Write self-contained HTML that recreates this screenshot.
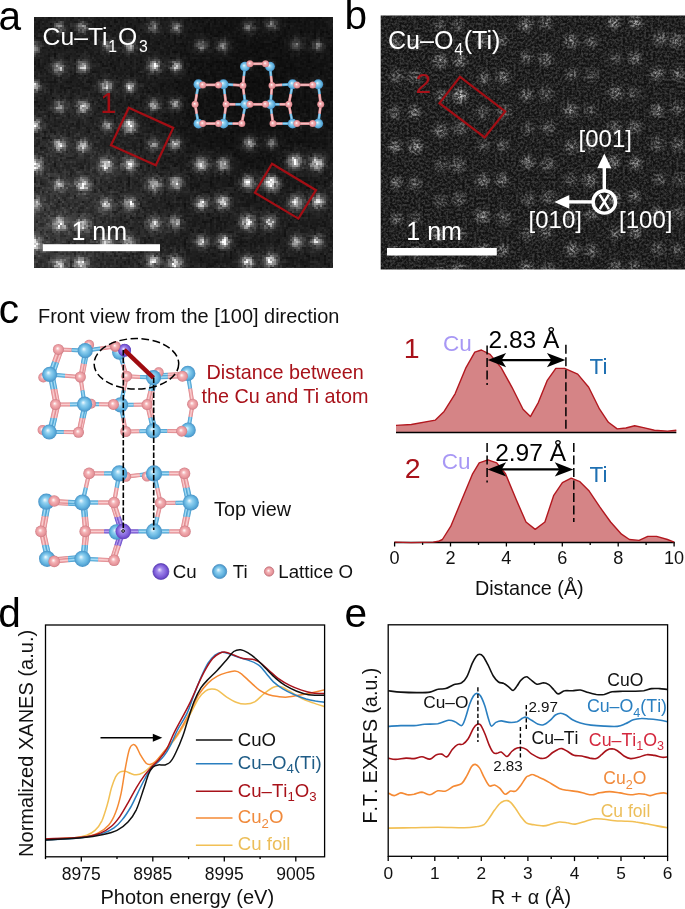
<!DOCTYPE html>
<html><head><meta charset="utf-8"><title>Figure</title>
<style>html,body{margin:0;padding:0;background:#fff}svg{display:block}</style></head>
<body>
<svg width="685" height="909" viewBox="0 0 685 909" font-family="'Liberation Sans', sans-serif">
<defs>
<radialGradient id="gTi" cx="0.5" cy="0.5" r="0.5" fx="0.4" fy="0.38">
<stop offset="0" stop-color="#f2fbff"/><stop offset="0.32" stop-color="#93d2f1"/><stop offset="0.72" stop-color="#62b3df"/><stop offset="1" stop-color="#4792c6"/></radialGradient>
<radialGradient id="gO" cx="0.5" cy="0.5" r="0.5" fx="0.42" fy="0.4">
<stop offset="0" stop-color="#ffffff"/><stop offset="0.38" stop-color="#f4b2b5"/><stop offset="0.8" stop-color="#e6949a"/><stop offset="1" stop-color="#cc7a82"/></radialGradient>
<radialGradient id="gCu" cx="0.5" cy="0.5" r="0.5" fx="0.4" fy="0.38">
<stop offset="0" stop-color="#efe8ff"/><stop offset="0.32" stop-color="#a48cec"/><stop offset="0.75" stop-color="#7d5cd8"/><stop offset="1" stop-color="#6040bc"/></radialGradient>
<radialGradient id="dotA"><stop offset="0" stop-color="#fff" stop-opacity="1"/><stop offset="0.2" stop-color="#fff" stop-opacity="0.86"/><stop offset="0.42" stop-color="#fff" stop-opacity="0.42"/><stop offset="0.68" stop-color="#fff" stop-opacity="0.13"/><stop offset="1" stop-color="#fff" stop-opacity="0"/></radialGradient>
<radialGradient id="dotB"><stop offset="0" stop-color="#fff" stop-opacity="0.34"/><stop offset="0.4" stop-color="#fff" stop-opacity="0.22"/><stop offset="0.75" stop-color="#fff" stop-opacity="0.08"/><stop offset="1" stop-color="#fff" stop-opacity="0"/></radialGradient>
<radialGradient id="haloA"><stop offset="0" stop-color="#fff" stop-opacity="0.11"/><stop offset="0.5" stop-color="#fff" stop-opacity="0.055"/><stop offset="1" stop-color="#fff" stop-opacity="0"/></radialGradient>
<radialGradient id="hazeA" gradientUnits="userSpaceOnUse" cx="45" cy="225" r="160"><stop offset="0" stop-color="#fff" stop-opacity="0.12"/><stop offset="0.5" stop-color="#fff" stop-opacity="0.05"/><stop offset="1" stop-color="#fff" stop-opacity="0"/></radialGradient>
<radialGradient id="darkA" gradientUnits="userSpaceOnUse" cx="270" cy="85" r="130"><stop offset="0" stop-color="#000" stop-opacity="0.5"/><stop offset="0.6" stop-color="#000" stop-opacity="0.3"/><stop offset="1" stop-color="#000" stop-opacity="0"/></radialGradient>
<filter id="nzA" x="0" y="0" width="1" height="1" color-interpolation-filters="sRGB">
<feTurbulence type="fractalNoise" baseFrequency="0.3" numOctaves="2" seed="3" result="t"/>
<feColorMatrix in="t" type="matrix" values="1.6 0 0 0 -0.3  1.6 0 0 0 -0.3  1.6 0 0 0 -0.3  0 0 0 0 1" result="g"/>
<feComposite in="SourceGraphic" in2="g" operator="arithmetic" k1="1.0" k2="0.5" k3="0" k4="0" result="n"/>
<feFlood x="34" y="17" width="1" height="1" flood-color="#000"/>
<feComposite width="2" height="2"/>
<feTile result="grid"/>
<feComposite in="n" in2="grid" operator="in" result="s"/>
<feOffset in="s" dx="1" dy="0" result="s1"/>
<feOffset in="s" dx="0" dy="1" result="s2"/>
<feOffset in="s" dx="1" dy="1" result="s3"/>
<feMerge><feMergeNode in="s"/><feMergeNode in="s1"/><feMergeNode in="s2"/><feMergeNode in="s3"/></feMerge>
</filter>
<filter id="nzB" x="0" y="0" width="1" height="1" color-interpolation-filters="sRGB">
<feTurbulence type="fractalNoise" baseFrequency="0.43" numOctaves="3" seed="11" result="t"/>
<feColorMatrix in="t" type="matrix" values="2.4 0 0 0 -0.7  2.4 0 0 0 -0.7  2.4 0 0 0 -0.7  0 0 0 0 1" result="g0"/>
<feComponentTransfer in="g0" result="g"><feFuncR type="gamma" exponent="1.3" amplitude="1" offset="0"/><feFuncG type="gamma" exponent="1.3" amplitude="1" offset="0"/><feFuncB type="gamma" exponent="1.3" amplitude="1" offset="0"/></feComponentTransfer>
<feComposite in="SourceGraphic" in2="g" operator="arithmetic" k1="1.35" k2="0.5" k3="0" k4="0"/>
</filter>
<clipPath id="clipA"><rect x="34" y="17" width="299" height="251"/></clipPath>
<clipPath id="clipB"><rect x="380.7" y="15.5" width="304.3" height="253.9"/></clipPath>
<marker id="ah" viewBox="0 0 10 10" refX="10" refY="5" markerWidth="10" markerHeight="10" orient="auto-start-reverse"><path d="M0,0 L10,5 L0,10 z"/></marker>
</defs>

<rect width="685" height="909" fill="#fff"/>
<text x="-1.6" y="29.6" font-size="40.6" fill="#000">a</text>
<text x="344.4" y="29.0" font-size="40.6" fill="#000">b</text>
<text x="-1.2" y="323.0" font-size="40.6" fill="#000">c</text>
<text x="-1.8" y="627.0" font-size="40.6" fill="#000">d</text>
<text x="344.5" y="627.3" font-size="40.6" fill="#000">e</text>
<g clip-path="url(#clipA)"><g filter="url(#nzA)">
<rect x="32" y="15" width="303" height="255" fill="#1c1c1c"/>
<rect x="30" y="15" width="310" height="260" fill="url(#hazeA)"/>
<rect x="30" y="15" width="310" height="260" fill="url(#darkA)"/>
<circle cx="59.0" cy="26.6" r="17.0" fill="url(#haloA)" opacity="0.43"/>
<circle cx="59.0" cy="26.6" r="10.0" fill="url(#dotA)" opacity="0.43"/>
<circle cx="81.6" cy="26.9" r="15.4" fill="url(#haloA)" opacity="0.54"/>
<circle cx="81.6" cy="26.9" r="9.1" fill="url(#dotA)" opacity="0.54"/>
<circle cx="152.6" cy="26.3" r="15.5" fill="url(#haloA)" opacity="0.43"/>
<circle cx="152.6" cy="26.3" r="9.1" fill="url(#dotA)" opacity="0.43"/>
<circle cx="175.6" cy="27.1" r="15.6" fill="url(#haloA)" opacity="0.47"/>
<circle cx="175.6" cy="27.1" r="9.2" fill="url(#dotA)" opacity="0.47"/>
<circle cx="248.4" cy="26.6" r="16.8" fill="url(#haloA)" opacity="0.38"/>
<circle cx="248.4" cy="26.6" r="9.9" fill="url(#dotA)" opacity="0.38"/>
<circle cx="271.3" cy="24.0" r="17.5" fill="url(#haloA)" opacity="0.36"/>
<circle cx="271.3" cy="24.0" r="10.3" fill="url(#dotA)" opacity="0.36"/>
<circle cx="341.5" cy="23.4" r="16.1" fill="url(#haloA)" opacity="0.46"/>
<circle cx="341.5" cy="23.4" r="9.5" fill="url(#dotA)" opacity="0.46"/>
<circle cx="33.7" cy="47.6" r="16.9" fill="url(#haloA)" opacity="0.50"/>
<circle cx="33.7" cy="47.6" r="10.0" fill="url(#dotA)" opacity="0.50"/>
<circle cx="106.9" cy="45.5" r="15.5" fill="url(#haloA)" opacity="0.46"/>
<circle cx="106.9" cy="45.5" r="9.1" fill="url(#dotA)" opacity="0.46"/>
<circle cx="129.3" cy="46.2" r="16.1" fill="url(#haloA)" opacity="0.56"/>
<circle cx="129.3" cy="46.2" r="9.5" fill="url(#dotA)" opacity="0.56"/>
<circle cx="201.0" cy="45.0" r="17.3" fill="url(#haloA)" opacity="0.43"/>
<circle cx="201.0" cy="45.0" r="10.2" fill="url(#dotA)" opacity="0.43"/>
<circle cx="222.4" cy="45.5" r="16.6" fill="url(#haloA)" opacity="0.47"/>
<circle cx="222.4" cy="45.5" r="9.8" fill="url(#dotA)" opacity="0.47"/>
<circle cx="296.0" cy="44.0" r="17.8" fill="url(#haloA)" opacity="0.32"/>
<circle cx="296.0" cy="44.0" r="10.5" fill="url(#dotA)" opacity="0.32"/>
<circle cx="317.2" cy="44.9" r="15.7" fill="url(#haloA)" opacity="0.39"/>
<circle cx="317.2" cy="44.9" r="9.2" fill="url(#dotA)" opacity="0.39"/>
<circle cx="58.3" cy="67.2" r="17.2" fill="url(#haloA)" opacity="0.70"/>
<circle cx="58.3" cy="67.2" r="10.1" fill="url(#dotA)" opacity="0.70"/>
<circle cx="82.5" cy="66.0" r="17.1" fill="url(#haloA)" opacity="0.70"/>
<circle cx="82.5" cy="66.0" r="10.0" fill="url(#dotA)" opacity="0.70"/>
<circle cx="154.0" cy="65.6" r="17.4" fill="url(#haloA)" opacity="0.82"/>
<circle cx="154.0" cy="65.6" r="10.3" fill="url(#dotA)" opacity="0.82"/>
<circle cx="175.7" cy="65.9" r="15.5" fill="url(#haloA)" opacity="0.74"/>
<circle cx="175.7" cy="65.9" r="9.1" fill="url(#dotA)" opacity="0.74"/>
<circle cx="248.5" cy="65.9" r="17.4" fill="url(#haloA)" opacity="0.09"/>
<circle cx="248.5" cy="65.9" r="10.2" fill="url(#dotA)" opacity="0.09"/>
<circle cx="269.8" cy="64.8" r="15.4" fill="url(#haloA)" opacity="0.10"/>
<circle cx="269.8" cy="64.8" r="9.0" fill="url(#dotA)" opacity="0.10"/>
<circle cx="341.5" cy="62.6" r="15.5" fill="url(#haloA)" opacity="0.12"/>
<circle cx="341.5" cy="62.6" r="9.1" fill="url(#dotA)" opacity="0.12"/>
<circle cx="33.5" cy="85.9" r="16.3" fill="url(#haloA)" opacity="0.79"/>
<circle cx="33.5" cy="85.9" r="9.6" fill="url(#dotA)" opacity="0.79"/>
<circle cx="105.7" cy="85.7" r="16.7" fill="url(#haloA)" opacity="0.80"/>
<circle cx="105.7" cy="85.7" r="9.8" fill="url(#dotA)" opacity="0.80"/>
<circle cx="129.6" cy="86.5" r="16.0" fill="url(#haloA)" opacity="0.64"/>
<circle cx="129.6" cy="86.5" r="9.4" fill="url(#dotA)" opacity="0.64"/>
<circle cx="200.7" cy="85.8" r="17.7" fill="url(#haloA)" opacity="0.09"/>
<circle cx="200.7" cy="85.8" r="10.4" fill="url(#dotA)" opacity="0.09"/>
<circle cx="222.3" cy="83.8" r="15.9" fill="url(#haloA)" opacity="0.10"/>
<circle cx="222.3" cy="83.8" r="9.4" fill="url(#dotA)" opacity="0.10"/>
<circle cx="295.6" cy="83.1" r="15.3" fill="url(#haloA)" opacity="0.10"/>
<circle cx="295.6" cy="83.1" r="9.0" fill="url(#dotA)" opacity="0.10"/>
<circle cx="317.1" cy="83.7" r="17.7" fill="url(#haloA)" opacity="0.11"/>
<circle cx="317.1" cy="83.7" r="10.4" fill="url(#dotA)" opacity="0.11"/>
<circle cx="59.5" cy="106.2" r="17.0" fill="url(#haloA)" opacity="0.53"/>
<circle cx="59.5" cy="106.2" r="10.0" fill="url(#dotA)" opacity="0.53"/>
<circle cx="82.5" cy="106.4" r="17.5" fill="url(#haloA)" opacity="0.77"/>
<circle cx="82.5" cy="106.4" r="10.3" fill="url(#dotA)" opacity="0.77"/>
<circle cx="153.5" cy="104.6" r="15.6" fill="url(#haloA)" opacity="0.71"/>
<circle cx="153.5" cy="104.6" r="9.2" fill="url(#dotA)" opacity="0.71"/>
<circle cx="174.7" cy="103.5" r="15.8" fill="url(#haloA)" opacity="0.56"/>
<circle cx="174.7" cy="103.5" r="9.3" fill="url(#dotA)" opacity="0.56"/>
<circle cx="247.7" cy="102.7" r="15.3" fill="url(#haloA)" opacity="0.09"/>
<circle cx="247.7" cy="102.7" r="9.0" fill="url(#dotA)" opacity="0.09"/>
<circle cx="269.1" cy="103.2" r="15.4" fill="url(#haloA)" opacity="0.12"/>
<circle cx="269.1" cy="103.2" r="9.0" fill="url(#dotA)" opacity="0.12"/>
<circle cx="342.7" cy="101.9" r="15.9" fill="url(#haloA)" opacity="0.10"/>
<circle cx="342.7" cy="101.9" r="9.4" fill="url(#dotA)" opacity="0.10"/>
<circle cx="34.1" cy="124.8" r="17.5" fill="url(#haloA)" opacity="0.83"/>
<circle cx="34.1" cy="124.8" r="10.3" fill="url(#dotA)" opacity="0.83"/>
<circle cx="106.7" cy="125.0" r="15.5" fill="url(#haloA)" opacity="0.54"/>
<circle cx="106.7" cy="125.0" r="9.1" fill="url(#dotA)" opacity="0.54"/>
<circle cx="128.4" cy="124.1" r="17.4" fill="url(#haloA)" opacity="0.56"/>
<circle cx="128.4" cy="124.1" r="10.2" fill="url(#dotA)" opacity="0.56"/>
<circle cx="199.9" cy="125.1" r="16.6" fill="url(#haloA)" opacity="0.09"/>
<circle cx="199.9" cy="125.1" r="9.8" fill="url(#dotA)" opacity="0.09"/>
<circle cx="223.2" cy="122.5" r="16.6" fill="url(#haloA)" opacity="0.13"/>
<circle cx="223.2" cy="122.5" r="9.8" fill="url(#dotA)" opacity="0.13"/>
<circle cx="296.3" cy="123.4" r="16.0" fill="url(#haloA)" opacity="0.10"/>
<circle cx="296.3" cy="123.4" r="9.4" fill="url(#dotA)" opacity="0.10"/>
<circle cx="316.5" cy="123.4" r="16.7" fill="url(#haloA)" opacity="0.12"/>
<circle cx="316.5" cy="123.4" r="9.8" fill="url(#dotA)" opacity="0.12"/>
<circle cx="59.1" cy="144.4" r="17.4" fill="url(#haloA)" opacity="0.83"/>
<circle cx="59.1" cy="144.4" r="10.2" fill="url(#dotA)" opacity="0.83"/>
<circle cx="82.4" cy="145.7" r="17.4" fill="url(#haloA)" opacity="0.75"/>
<circle cx="82.4" cy="145.7" r="10.2" fill="url(#dotA)" opacity="0.75"/>
<circle cx="153.1" cy="144.1" r="16.2" fill="url(#haloA)" opacity="0.52"/>
<circle cx="153.1" cy="144.1" r="9.5" fill="url(#dotA)" opacity="0.52"/>
<circle cx="174.6" cy="143.3" r="16.0" fill="url(#haloA)" opacity="0.73"/>
<circle cx="174.6" cy="143.3" r="9.4" fill="url(#dotA)" opacity="0.73"/>
<circle cx="249.3" cy="142.9" r="17.7" fill="url(#haloA)" opacity="0.59"/>
<circle cx="249.3" cy="142.9" r="10.4" fill="url(#dotA)" opacity="0.59"/>
<circle cx="271.3" cy="142.4" r="15.9" fill="url(#haloA)" opacity="0.41"/>
<circle cx="271.3" cy="142.4" r="9.3" fill="url(#dotA)" opacity="0.41"/>
<circle cx="341.6" cy="141.2" r="16.9" fill="url(#haloA)" opacity="0.57"/>
<circle cx="341.6" cy="141.2" r="9.9" fill="url(#dotA)" opacity="0.57"/>
<circle cx="35.4" cy="164.9" r="19.2" fill="url(#haloA)" opacity="0.90"/>
<circle cx="35.4" cy="164.9" r="11.3" fill="url(#dotA)" opacity="0.90"/>
<circle cx="105.7" cy="164.6" r="20.1" fill="url(#haloA)" opacity="0.90"/>
<circle cx="105.7" cy="164.6" r="11.8" fill="url(#dotA)" opacity="0.90"/>
<circle cx="129.5" cy="163.9" r="17.6" fill="url(#haloA)" opacity="0.90"/>
<circle cx="129.5" cy="163.9" r="10.4" fill="url(#dotA)" opacity="0.90"/>
<circle cx="200.7" cy="163.9" r="20.3" fill="url(#haloA)" opacity="0.75"/>
<circle cx="200.7" cy="163.9" r="11.9" fill="url(#dotA)" opacity="0.75"/>
<circle cx="222.8" cy="164.1" r="19.5" fill="url(#haloA)" opacity="0.66"/>
<circle cx="222.8" cy="164.1" r="11.4" fill="url(#dotA)" opacity="0.66"/>
<circle cx="294.4" cy="161.2" r="20.1" fill="url(#haloA)" opacity="0.91"/>
<circle cx="294.4" cy="161.2" r="11.8" fill="url(#dotA)" opacity="0.91"/>
<circle cx="316.5" cy="162.7" r="20.3" fill="url(#haloA)" opacity="0.85"/>
<circle cx="316.5" cy="162.7" r="12.0" fill="url(#dotA)" opacity="0.85"/>
<circle cx="59.1" cy="184.4" r="17.4" fill="url(#haloA)" opacity="0.61"/>
<circle cx="59.1" cy="184.4" r="10.3" fill="url(#dotA)" opacity="0.61"/>
<circle cx="82.7" cy="184.5" r="18.8" fill="url(#haloA)" opacity="0.95"/>
<circle cx="82.7" cy="184.5" r="11.1" fill="url(#dotA)" opacity="0.95"/>
<circle cx="153.6" cy="184.2" r="19.8" fill="url(#haloA)" opacity="0.68"/>
<circle cx="153.6" cy="184.2" r="11.7" fill="url(#dotA)" opacity="0.68"/>
<circle cx="175.2" cy="182.5" r="17.8" fill="url(#haloA)" opacity="0.82"/>
<circle cx="175.2" cy="182.5" r="10.5" fill="url(#dotA)" opacity="0.82"/>
<circle cx="247.5" cy="182.0" r="17.4" fill="url(#haloA)" opacity="0.95"/>
<circle cx="247.5" cy="182.0" r="10.3" fill="url(#dotA)" opacity="0.95"/>
<circle cx="269.7" cy="181.9" r="19.0" fill="url(#haloA)" opacity="0.94"/>
<circle cx="269.7" cy="181.9" r="11.2" fill="url(#dotA)" opacity="0.94"/>
<circle cx="342.2" cy="182.3" r="18.7" fill="url(#haloA)" opacity="0.80"/>
<circle cx="342.2" cy="182.3" r="11.0" fill="url(#dotA)" opacity="0.80"/>
<circle cx="34.6" cy="202.9" r="18.5" fill="url(#haloA)" opacity="0.67"/>
<circle cx="34.6" cy="202.9" r="10.9" fill="url(#dotA)" opacity="0.67"/>
<circle cx="105.5" cy="204.2" r="17.6" fill="url(#haloA)" opacity="0.78"/>
<circle cx="105.5" cy="204.2" r="10.3" fill="url(#dotA)" opacity="0.78"/>
<circle cx="129.4" cy="203.3" r="18.1" fill="url(#haloA)" opacity="0.80"/>
<circle cx="129.4" cy="203.3" r="10.7" fill="url(#dotA)" opacity="0.80"/>
<circle cx="201.2" cy="203.1" r="17.4" fill="url(#haloA)" opacity="0.81"/>
<circle cx="201.2" cy="203.1" r="10.2" fill="url(#dotA)" opacity="0.81"/>
<circle cx="222.4" cy="201.5" r="19.6" fill="url(#haloA)" opacity="0.79"/>
<circle cx="222.4" cy="201.5" r="11.5" fill="url(#dotA)" opacity="0.79"/>
<circle cx="295.6" cy="202.0" r="20.1" fill="url(#haloA)" opacity="0.77"/>
<circle cx="295.6" cy="202.0" r="11.8" fill="url(#dotA)" opacity="0.77"/>
<circle cx="317.7" cy="201.1" r="18.7" fill="url(#haloA)" opacity="0.86"/>
<circle cx="317.7" cy="201.1" r="11.0" fill="url(#dotA)" opacity="0.86"/>
<circle cx="59.4" cy="223.6" r="18.6" fill="url(#haloA)" opacity="0.96"/>
<circle cx="59.4" cy="223.6" r="11.0" fill="url(#dotA)" opacity="0.96"/>
<circle cx="82.0" cy="224.3" r="20.2" fill="url(#haloA)" opacity="0.70"/>
<circle cx="82.0" cy="224.3" r="11.9" fill="url(#dotA)" opacity="0.70"/>
<circle cx="154.0" cy="223.6" r="19.9" fill="url(#haloA)" opacity="0.65"/>
<circle cx="154.0" cy="223.6" r="11.7" fill="url(#dotA)" opacity="0.65"/>
<circle cx="174.8" cy="222.1" r="17.2" fill="url(#haloA)" opacity="0.69"/>
<circle cx="174.8" cy="222.1" r="10.1" fill="url(#dotA)" opacity="0.69"/>
<circle cx="247.0" cy="221.9" r="19.7" fill="url(#haloA)" opacity="0.94"/>
<circle cx="247.0" cy="221.9" r="11.6" fill="url(#dotA)" opacity="0.94"/>
<circle cx="269.2" cy="221.8" r="19.2" fill="url(#haloA)" opacity="0.65"/>
<circle cx="269.2" cy="221.8" r="11.3" fill="url(#dotA)" opacity="0.65"/>
<circle cx="343.4" cy="221.6" r="17.7" fill="url(#haloA)" opacity="0.96"/>
<circle cx="343.4" cy="221.6" r="10.4" fill="url(#dotA)" opacity="0.96"/>
<circle cx="34.2" cy="243.4" r="20.4" fill="url(#haloA)" opacity="0.92"/>
<circle cx="34.2" cy="243.4" r="12.0" fill="url(#dotA)" opacity="0.92"/>
<circle cx="105.9" cy="242.4" r="18.8" fill="url(#haloA)" opacity="0.73"/>
<circle cx="105.9" cy="242.4" r="11.0" fill="url(#dotA)" opacity="0.73"/>
<circle cx="128.0" cy="241.9" r="19.5" fill="url(#haloA)" opacity="0.61"/>
<circle cx="128.0" cy="241.9" r="11.4" fill="url(#dotA)" opacity="0.61"/>
<circle cx="201.2" cy="241.4" r="17.1" fill="url(#haloA)" opacity="0.73"/>
<circle cx="201.2" cy="241.4" r="10.0" fill="url(#dotA)" opacity="0.73"/>
<circle cx="223.4" cy="241.3" r="17.2" fill="url(#haloA)" opacity="0.97"/>
<circle cx="223.4" cy="241.3" r="10.1" fill="url(#dotA)" opacity="0.97"/>
<circle cx="296.1" cy="241.7" r="17.4" fill="url(#haloA)" opacity="0.70"/>
<circle cx="296.1" cy="241.7" r="10.2" fill="url(#dotA)" opacity="0.70"/>
<circle cx="316.2" cy="241.0" r="17.9" fill="url(#haloA)" opacity="0.65"/>
<circle cx="316.2" cy="241.0" r="10.5" fill="url(#dotA)" opacity="0.65"/>
<circle cx="59.3" cy="263.8" r="19.8" fill="url(#haloA)" opacity="0.70"/>
<circle cx="59.3" cy="263.8" r="11.6" fill="url(#dotA)" opacity="0.70"/>
<circle cx="80.6" cy="263.6" r="18.9" fill="url(#haloA)" opacity="0.87"/>
<circle cx="80.6" cy="263.6" r="11.1" fill="url(#dotA)" opacity="0.87"/>
<circle cx="152.7" cy="260.5" r="19.3" fill="url(#haloA)" opacity="0.76"/>
<circle cx="152.7" cy="260.5" r="11.4" fill="url(#dotA)" opacity="0.76"/>
<circle cx="174.7" cy="262.6" r="19.2" fill="url(#haloA)" opacity="0.90"/>
<circle cx="174.7" cy="262.6" r="11.3" fill="url(#dotA)" opacity="0.90"/>
<circle cx="247.0" cy="261.6" r="17.2" fill="url(#haloA)" opacity="0.93"/>
<circle cx="247.0" cy="261.6" r="10.1" fill="url(#dotA)" opacity="0.93"/>
<circle cx="270.0" cy="260.0" r="18.9" fill="url(#haloA)" opacity="0.95"/>
<circle cx="270.0" cy="260.0" r="11.1" fill="url(#dotA)" opacity="0.95"/>
<circle cx="341.8" cy="258.6" r="18.8" fill="url(#haloA)" opacity="0.69"/>
<circle cx="341.8" cy="258.6" r="11.1" fill="url(#dotA)" opacity="0.69"/>
<circle cx="33.5" cy="281.7" r="17.2" fill="url(#haloA)" opacity="0.68"/>
<circle cx="33.5" cy="281.7" r="10.1" fill="url(#dotA)" opacity="0.68"/>
<circle cx="106.3" cy="281.3" r="19.6" fill="url(#haloA)" opacity="0.71"/>
<circle cx="106.3" cy="281.3" r="11.5" fill="url(#dotA)" opacity="0.71"/>
<circle cx="128.8" cy="280.7" r="18.2" fill="url(#haloA)" opacity="0.61"/>
<circle cx="128.8" cy="280.7" r="10.7" fill="url(#dotA)" opacity="0.61"/>
<circle cx="200.5" cy="279.5" r="19.5" fill="url(#haloA)" opacity="0.81"/>
<circle cx="200.5" cy="279.5" r="11.5" fill="url(#dotA)" opacity="0.81"/>
<circle cx="222.3" cy="280.5" r="20.2" fill="url(#haloA)" opacity="0.64"/>
<circle cx="222.3" cy="280.5" r="11.9" fill="url(#dotA)" opacity="0.64"/>
<circle cx="296.2" cy="279.5" r="18.7" fill="url(#haloA)" opacity="0.92"/>
<circle cx="296.2" cy="279.5" r="11.0" fill="url(#dotA)" opacity="0.92"/>
<circle cx="317.1" cy="279.5" r="19.3" fill="url(#haloA)" opacity="0.97"/>
<circle cx="317.1" cy="279.5" r="11.4" fill="url(#dotA)" opacity="0.97"/>
<circle cx="129.8" cy="126.6" r="11.5" fill="url(#dotA)" opacity="0.6"/>
<circle cx="272.6" cy="183.8" r="11.5" fill="url(#dotA)" opacity="0.6"/>
</g></g>
<line x1="244.9" y1="66.6" x2="247.4" y2="65.2" stroke="#4a9acb" stroke-width="2.7"/>
<line x1="244.9" y1="66.6" x2="247.4" y2="65.2" stroke="#62b4de" stroke-width="2.11"/>
<line x1="244.9" y1="66.6" x2="247.4" y2="65.2" stroke="#a9dcf5" stroke-width="0.81"/>
<line x1="247.4" y1="65.2" x2="249.9" y2="63.8" stroke="#d98388" stroke-width="2.7"/>
<line x1="247.4" y1="65.2" x2="249.9" y2="63.8" stroke="#eb9ea3" stroke-width="2.11"/>
<line x1="247.4" y1="65.2" x2="249.9" y2="63.8" stroke="#f9cfd0" stroke-width="0.81"/>
<line x1="249.9" y1="63.8" x2="265.5" y2="63.8" stroke="#d98388" stroke-width="2.7"/>
<line x1="249.9" y1="63.8" x2="265.5" y2="63.8" stroke="#eb9ea3" stroke-width="2.11"/>
<line x1="249.9" y1="63.8" x2="265.5" y2="63.8" stroke="#f9cfd0" stroke-width="0.81"/>
<line x1="265.5" y1="63.8" x2="267.7" y2="65.2" stroke="#d98388" stroke-width="2.7"/>
<line x1="265.5" y1="63.8" x2="267.7" y2="65.2" stroke="#eb9ea3" stroke-width="2.11"/>
<line x1="265.5" y1="63.8" x2="267.7" y2="65.2" stroke="#f9cfd0" stroke-width="0.81"/>
<line x1="267.7" y1="65.2" x2="270.0" y2="66.6" stroke="#4a9acb" stroke-width="2.7"/>
<line x1="267.7" y1="65.2" x2="270.0" y2="66.6" stroke="#62b4de" stroke-width="2.11"/>
<line x1="267.7" y1="65.2" x2="270.0" y2="66.6" stroke="#a9dcf5" stroke-width="0.81"/>
<line x1="244.9" y1="66.6" x2="243.9" y2="76.0" stroke="#4a9acb" stroke-width="2.7"/>
<line x1="244.9" y1="66.6" x2="243.9" y2="76.0" stroke="#62b4de" stroke-width="2.11"/>
<line x1="244.9" y1="66.6" x2="243.9" y2="76.0" stroke="#a9dcf5" stroke-width="0.81"/>
<line x1="243.9" y1="76.0" x2="242.9" y2="85.4" stroke="#d98388" stroke-width="2.7"/>
<line x1="243.9" y1="76.0" x2="242.9" y2="85.4" stroke="#eb9ea3" stroke-width="2.11"/>
<line x1="243.9" y1="76.0" x2="242.9" y2="85.4" stroke="#f9cfd0" stroke-width="0.81"/>
<line x1="270.0" y1="66.6" x2="271.0" y2="76.0" stroke="#4a9acb" stroke-width="2.7"/>
<line x1="270.0" y1="66.6" x2="271.0" y2="76.0" stroke="#62b4de" stroke-width="2.11"/>
<line x1="270.0" y1="66.6" x2="271.0" y2="76.0" stroke="#a9dcf5" stroke-width="0.81"/>
<line x1="271.0" y1="76.0" x2="272.0" y2="85.4" stroke="#d98388" stroke-width="2.7"/>
<line x1="271.0" y1="76.0" x2="272.0" y2="85.4" stroke="#eb9ea3" stroke-width="2.11"/>
<line x1="271.0" y1="76.0" x2="272.0" y2="85.4" stroke="#f9cfd0" stroke-width="0.81"/>
<line x1="198.4" y1="84.2" x2="200.5" y2="84.5" stroke="#4a9acb" stroke-width="2.7"/>
<line x1="198.4" y1="84.2" x2="200.5" y2="84.5" stroke="#62b4de" stroke-width="2.11"/>
<line x1="198.4" y1="84.2" x2="200.5" y2="84.5" stroke="#a9dcf5" stroke-width="0.81"/>
<line x1="200.5" y1="84.5" x2="202.7" y2="84.9" stroke="#d98388" stroke-width="2.7"/>
<line x1="200.5" y1="84.5" x2="202.7" y2="84.9" stroke="#eb9ea3" stroke-width="2.11"/>
<line x1="200.5" y1="84.5" x2="202.7" y2="84.9" stroke="#f9cfd0" stroke-width="0.81"/>
<line x1="202.7" y1="84.9" x2="218.5" y2="84.9" stroke="#d98388" stroke-width="2.7"/>
<line x1="202.7" y1="84.9" x2="218.5" y2="84.9" stroke="#eb9ea3" stroke-width="2.11"/>
<line x1="202.7" y1="84.9" x2="218.5" y2="84.9" stroke="#f9cfd0" stroke-width="0.81"/>
<line x1="218.5" y1="84.9" x2="221.0" y2="84.5" stroke="#d98388" stroke-width="2.7"/>
<line x1="218.5" y1="84.9" x2="221.0" y2="84.5" stroke="#eb9ea3" stroke-width="2.11"/>
<line x1="218.5" y1="84.9" x2="221.0" y2="84.5" stroke="#f9cfd0" stroke-width="0.81"/>
<line x1="221.0" y1="84.5" x2="223.5" y2="84.2" stroke="#4a9acb" stroke-width="2.7"/>
<line x1="221.0" y1="84.5" x2="223.5" y2="84.2" stroke="#62b4de" stroke-width="2.11"/>
<line x1="221.0" y1="84.5" x2="223.5" y2="84.2" stroke="#a9dcf5" stroke-width="0.81"/>
<line x1="223.5" y1="84.2" x2="233.2" y2="84.8" stroke="#4a9acb" stroke-width="2.7"/>
<line x1="223.5" y1="84.2" x2="233.2" y2="84.8" stroke="#62b4de" stroke-width="2.11"/>
<line x1="223.5" y1="84.2" x2="233.2" y2="84.8" stroke="#a9dcf5" stroke-width="0.81"/>
<line x1="233.2" y1="84.8" x2="242.9" y2="85.4" stroke="#d98388" stroke-width="2.7"/>
<line x1="233.2" y1="84.8" x2="242.9" y2="85.4" stroke="#eb9ea3" stroke-width="2.11"/>
<line x1="233.2" y1="84.8" x2="242.9" y2="85.4" stroke="#f9cfd0" stroke-width="0.81"/>
<line x1="272.0" y1="85.4" x2="282.3" y2="84.8" stroke="#d98388" stroke-width="2.7"/>
<line x1="272.0" y1="85.4" x2="282.3" y2="84.8" stroke="#eb9ea3" stroke-width="2.11"/>
<line x1="272.0" y1="85.4" x2="282.3" y2="84.8" stroke="#f9cfd0" stroke-width="0.81"/>
<line x1="282.3" y1="84.8" x2="292.6" y2="84.2" stroke="#4a9acb" stroke-width="2.7"/>
<line x1="282.3" y1="84.8" x2="292.6" y2="84.2" stroke="#62b4de" stroke-width="2.11"/>
<line x1="282.3" y1="84.8" x2="292.6" y2="84.2" stroke="#a9dcf5" stroke-width="0.81"/>
<line x1="292.6" y1="84.2" x2="294.7" y2="84.5" stroke="#4a9acb" stroke-width="2.7"/>
<line x1="292.6" y1="84.2" x2="294.7" y2="84.5" stroke="#62b4de" stroke-width="2.11"/>
<line x1="292.6" y1="84.2" x2="294.7" y2="84.5" stroke="#a9dcf5" stroke-width="0.81"/>
<line x1="294.7" y1="84.5" x2="296.9" y2="84.9" stroke="#d98388" stroke-width="2.7"/>
<line x1="294.7" y1="84.5" x2="296.9" y2="84.9" stroke="#eb9ea3" stroke-width="2.11"/>
<line x1="294.7" y1="84.5" x2="296.9" y2="84.9" stroke="#f9cfd0" stroke-width="0.81"/>
<line x1="296.9" y1="84.9" x2="312.7" y2="84.9" stroke="#d98388" stroke-width="2.7"/>
<line x1="296.9" y1="84.9" x2="312.7" y2="84.9" stroke="#eb9ea3" stroke-width="2.11"/>
<line x1="296.9" y1="84.9" x2="312.7" y2="84.9" stroke="#f9cfd0" stroke-width="0.81"/>
<line x1="312.7" y1="84.9" x2="315.5" y2="84.5" stroke="#d98388" stroke-width="2.7"/>
<line x1="312.7" y1="84.9" x2="315.5" y2="84.5" stroke="#eb9ea3" stroke-width="2.11"/>
<line x1="312.7" y1="84.9" x2="315.5" y2="84.5" stroke="#f9cfd0" stroke-width="0.81"/>
<line x1="315.5" y1="84.5" x2="318.2" y2="84.2" stroke="#4a9acb" stroke-width="2.7"/>
<line x1="315.5" y1="84.5" x2="318.2" y2="84.2" stroke="#62b4de" stroke-width="2.11"/>
<line x1="315.5" y1="84.5" x2="318.2" y2="84.2" stroke="#a9dcf5" stroke-width="0.81"/>
<line x1="198.4" y1="84.2" x2="196.7" y2="94.2" stroke="#4a9acb" stroke-width="2.7"/>
<line x1="198.4" y1="84.2" x2="196.7" y2="94.2" stroke="#62b4de" stroke-width="2.11"/>
<line x1="198.4" y1="84.2" x2="196.7" y2="94.2" stroke="#a9dcf5" stroke-width="0.81"/>
<line x1="196.7" y1="94.2" x2="195.1" y2="104.3" stroke="#d98388" stroke-width="2.7"/>
<line x1="196.7" y1="94.2" x2="195.1" y2="104.3" stroke="#eb9ea3" stroke-width="2.11"/>
<line x1="196.7" y1="94.2" x2="195.1" y2="104.3" stroke="#f9cfd0" stroke-width="0.81"/>
<line x1="195.1" y1="104.3" x2="196.7" y2="113.9" stroke="#d98388" stroke-width="2.7"/>
<line x1="195.1" y1="104.3" x2="196.7" y2="113.9" stroke="#eb9ea3" stroke-width="2.11"/>
<line x1="195.1" y1="104.3" x2="196.7" y2="113.9" stroke="#f9cfd0" stroke-width="0.81"/>
<line x1="196.7" y1="113.9" x2="198.4" y2="123.6" stroke="#4a9acb" stroke-width="2.7"/>
<line x1="196.7" y1="113.9" x2="198.4" y2="123.6" stroke="#62b4de" stroke-width="2.11"/>
<line x1="196.7" y1="113.9" x2="198.4" y2="123.6" stroke="#a9dcf5" stroke-width="0.81"/>
<line x1="223.5" y1="84.2" x2="224.8" y2="94.2" stroke="#4a9acb" stroke-width="2.7"/>
<line x1="223.5" y1="84.2" x2="224.8" y2="94.2" stroke="#62b4de" stroke-width="2.11"/>
<line x1="223.5" y1="84.2" x2="224.8" y2="94.2" stroke="#a9dcf5" stroke-width="0.81"/>
<line x1="224.8" y1="94.2" x2="226.0" y2="104.3" stroke="#d98388" stroke-width="2.7"/>
<line x1="224.8" y1="94.2" x2="226.0" y2="104.3" stroke="#eb9ea3" stroke-width="2.11"/>
<line x1="224.8" y1="94.2" x2="226.0" y2="104.3" stroke="#f9cfd0" stroke-width="0.81"/>
<line x1="226.0" y1="104.3" x2="224.8" y2="113.9" stroke="#d98388" stroke-width="2.7"/>
<line x1="226.0" y1="104.3" x2="224.8" y2="113.9" stroke="#eb9ea3" stroke-width="2.11"/>
<line x1="226.0" y1="104.3" x2="224.8" y2="113.9" stroke="#f9cfd0" stroke-width="0.81"/>
<line x1="224.8" y1="113.9" x2="223.5" y2="123.6" stroke="#4a9acb" stroke-width="2.7"/>
<line x1="224.8" y1="113.9" x2="223.5" y2="123.6" stroke="#62b4de" stroke-width="2.11"/>
<line x1="224.8" y1="113.9" x2="223.5" y2="123.6" stroke="#a9dcf5" stroke-width="0.81"/>
<line x1="242.9" y1="85.4" x2="244.1" y2="94.8" stroke="#d98388" stroke-width="2.7"/>
<line x1="242.9" y1="85.4" x2="244.1" y2="94.8" stroke="#eb9ea3" stroke-width="2.11"/>
<line x1="242.9" y1="85.4" x2="244.1" y2="94.8" stroke="#f9cfd0" stroke-width="0.81"/>
<line x1="244.1" y1="94.8" x2="245.4" y2="104.3" stroke="#4a9acb" stroke-width="2.7"/>
<line x1="244.1" y1="94.8" x2="245.4" y2="104.3" stroke="#62b4de" stroke-width="2.11"/>
<line x1="244.1" y1="94.8" x2="245.4" y2="104.3" stroke="#a9dcf5" stroke-width="0.81"/>
<line x1="272.0" y1="85.4" x2="271.2" y2="94.8" stroke="#d98388" stroke-width="2.7"/>
<line x1="272.0" y1="85.4" x2="271.2" y2="94.8" stroke="#eb9ea3" stroke-width="2.11"/>
<line x1="272.0" y1="85.4" x2="271.2" y2="94.8" stroke="#f9cfd0" stroke-width="0.81"/>
<line x1="271.2" y1="94.8" x2="270.5" y2="104.3" stroke="#4a9acb" stroke-width="2.7"/>
<line x1="271.2" y1="94.8" x2="270.5" y2="104.3" stroke="#62b4de" stroke-width="2.11"/>
<line x1="271.2" y1="94.8" x2="270.5" y2="104.3" stroke="#a9dcf5" stroke-width="0.81"/>
<line x1="292.6" y1="84.2" x2="290.7" y2="94.2" stroke="#4a9acb" stroke-width="2.7"/>
<line x1="292.6" y1="84.2" x2="290.7" y2="94.2" stroke="#62b4de" stroke-width="2.11"/>
<line x1="292.6" y1="84.2" x2="290.7" y2="94.2" stroke="#a9dcf5" stroke-width="0.81"/>
<line x1="290.7" y1="94.2" x2="288.8" y2="104.3" stroke="#d98388" stroke-width="2.7"/>
<line x1="290.7" y1="94.2" x2="288.8" y2="104.3" stroke="#eb9ea3" stroke-width="2.11"/>
<line x1="290.7" y1="94.2" x2="288.8" y2="104.3" stroke="#f9cfd0" stroke-width="0.81"/>
<line x1="288.8" y1="104.3" x2="290.7" y2="113.9" stroke="#d98388" stroke-width="2.7"/>
<line x1="288.8" y1="104.3" x2="290.7" y2="113.9" stroke="#eb9ea3" stroke-width="2.11"/>
<line x1="288.8" y1="104.3" x2="290.7" y2="113.9" stroke="#f9cfd0" stroke-width="0.81"/>
<line x1="290.7" y1="113.9" x2="292.6" y2="123.6" stroke="#4a9acb" stroke-width="2.7"/>
<line x1="290.7" y1="113.9" x2="292.6" y2="123.6" stroke="#62b4de" stroke-width="2.11"/>
<line x1="290.7" y1="113.9" x2="292.6" y2="123.6" stroke="#a9dcf5" stroke-width="0.81"/>
<line x1="318.2" y1="84.2" x2="319.5" y2="94.2" stroke="#4a9acb" stroke-width="2.7"/>
<line x1="318.2" y1="84.2" x2="319.5" y2="94.2" stroke="#62b4de" stroke-width="2.11"/>
<line x1="318.2" y1="84.2" x2="319.5" y2="94.2" stroke="#a9dcf5" stroke-width="0.81"/>
<line x1="319.5" y1="94.2" x2="320.7" y2="104.3" stroke="#d98388" stroke-width="2.7"/>
<line x1="319.5" y1="94.2" x2="320.7" y2="104.3" stroke="#eb9ea3" stroke-width="2.11"/>
<line x1="319.5" y1="94.2" x2="320.7" y2="104.3" stroke="#f9cfd0" stroke-width="0.81"/>
<line x1="320.7" y1="104.3" x2="319.5" y2="113.9" stroke="#d98388" stroke-width="2.7"/>
<line x1="320.7" y1="104.3" x2="319.5" y2="113.9" stroke="#eb9ea3" stroke-width="2.11"/>
<line x1="320.7" y1="104.3" x2="319.5" y2="113.9" stroke="#f9cfd0" stroke-width="0.81"/>
<line x1="319.5" y1="113.9" x2="318.2" y2="123.6" stroke="#4a9acb" stroke-width="2.7"/>
<line x1="319.5" y1="113.9" x2="318.2" y2="123.6" stroke="#62b4de" stroke-width="2.11"/>
<line x1="319.5" y1="113.9" x2="318.2" y2="123.6" stroke="#a9dcf5" stroke-width="0.81"/>
<line x1="226.0" y1="104.3" x2="235.7" y2="104.3" stroke="#d98388" stroke-width="2.7"/>
<line x1="226.0" y1="104.3" x2="235.7" y2="104.3" stroke="#eb9ea3" stroke-width="2.11"/>
<line x1="226.0" y1="104.3" x2="235.7" y2="104.3" stroke="#f9cfd0" stroke-width="0.81"/>
<line x1="235.7" y1="104.3" x2="245.4" y2="104.3" stroke="#4a9acb" stroke-width="2.7"/>
<line x1="235.7" y1="104.3" x2="245.4" y2="104.3" stroke="#62b4de" stroke-width="2.11"/>
<line x1="235.7" y1="104.3" x2="245.4" y2="104.3" stroke="#a9dcf5" stroke-width="0.81"/>
<line x1="245.4" y1="104.3" x2="247.6" y2="104.3" stroke="#4a9acb" stroke-width="2.7"/>
<line x1="245.4" y1="104.3" x2="247.6" y2="104.3" stroke="#62b4de" stroke-width="2.11"/>
<line x1="245.4" y1="104.3" x2="247.6" y2="104.3" stroke="#a9dcf5" stroke-width="0.81"/>
<line x1="247.6" y1="104.3" x2="249.9" y2="104.3" stroke="#d98388" stroke-width="2.7"/>
<line x1="247.6" y1="104.3" x2="249.9" y2="104.3" stroke="#eb9ea3" stroke-width="2.11"/>
<line x1="247.6" y1="104.3" x2="249.9" y2="104.3" stroke="#f9cfd0" stroke-width="0.81"/>
<line x1="249.9" y1="104.3" x2="265.5" y2="104.3" stroke="#d98388" stroke-width="2.7"/>
<line x1="249.9" y1="104.3" x2="265.5" y2="104.3" stroke="#eb9ea3" stroke-width="2.11"/>
<line x1="249.9" y1="104.3" x2="265.5" y2="104.3" stroke="#f9cfd0" stroke-width="0.81"/>
<line x1="265.5" y1="104.3" x2="268.0" y2="104.3" stroke="#d98388" stroke-width="2.7"/>
<line x1="265.5" y1="104.3" x2="268.0" y2="104.3" stroke="#eb9ea3" stroke-width="2.11"/>
<line x1="265.5" y1="104.3" x2="268.0" y2="104.3" stroke="#f9cfd0" stroke-width="0.81"/>
<line x1="268.0" y1="104.3" x2="270.5" y2="104.3" stroke="#4a9acb" stroke-width="2.7"/>
<line x1="268.0" y1="104.3" x2="270.5" y2="104.3" stroke="#62b4de" stroke-width="2.11"/>
<line x1="268.0" y1="104.3" x2="270.5" y2="104.3" stroke="#a9dcf5" stroke-width="0.81"/>
<line x1="270.5" y1="104.3" x2="279.7" y2="104.3" stroke="#4a9acb" stroke-width="2.7"/>
<line x1="270.5" y1="104.3" x2="279.7" y2="104.3" stroke="#62b4de" stroke-width="2.11"/>
<line x1="270.5" y1="104.3" x2="279.7" y2="104.3" stroke="#a9dcf5" stroke-width="0.81"/>
<line x1="279.7" y1="104.3" x2="288.8" y2="104.3" stroke="#d98388" stroke-width="2.7"/>
<line x1="279.7" y1="104.3" x2="288.8" y2="104.3" stroke="#eb9ea3" stroke-width="2.11"/>
<line x1="279.7" y1="104.3" x2="288.8" y2="104.3" stroke="#f9cfd0" stroke-width="0.81"/>
<line x1="245.4" y1="104.3" x2="243.6" y2="113.9" stroke="#4a9acb" stroke-width="2.7"/>
<line x1="245.4" y1="104.3" x2="243.6" y2="113.9" stroke="#62b4de" stroke-width="2.11"/>
<line x1="245.4" y1="104.3" x2="243.6" y2="113.9" stroke="#a9dcf5" stroke-width="0.81"/>
<line x1="243.6" y1="113.9" x2="241.8" y2="123.6" stroke="#d98388" stroke-width="2.7"/>
<line x1="243.6" y1="113.9" x2="241.8" y2="123.6" stroke="#eb9ea3" stroke-width="2.11"/>
<line x1="243.6" y1="113.9" x2="241.8" y2="123.6" stroke="#f9cfd0" stroke-width="0.81"/>
<line x1="270.5" y1="104.3" x2="271.7" y2="113.9" stroke="#4a9acb" stroke-width="2.7"/>
<line x1="270.5" y1="104.3" x2="271.7" y2="113.9" stroke="#62b4de" stroke-width="2.11"/>
<line x1="270.5" y1="104.3" x2="271.7" y2="113.9" stroke="#a9dcf5" stroke-width="0.81"/>
<line x1="271.7" y1="113.9" x2="273.0" y2="123.6" stroke="#d98388" stroke-width="2.7"/>
<line x1="271.7" y1="113.9" x2="273.0" y2="123.6" stroke="#eb9ea3" stroke-width="2.11"/>
<line x1="271.7" y1="113.9" x2="273.0" y2="123.6" stroke="#f9cfd0" stroke-width="0.81"/>
<line x1="198.4" y1="123.6" x2="200.5" y2="123.6" stroke="#4a9acb" stroke-width="2.7"/>
<line x1="198.4" y1="123.6" x2="200.5" y2="123.6" stroke="#62b4de" stroke-width="2.11"/>
<line x1="198.4" y1="123.6" x2="200.5" y2="123.6" stroke="#a9dcf5" stroke-width="0.81"/>
<line x1="200.5" y1="123.6" x2="202.7" y2="123.6" stroke="#d98388" stroke-width="2.7"/>
<line x1="200.5" y1="123.6" x2="202.7" y2="123.6" stroke="#eb9ea3" stroke-width="2.11"/>
<line x1="200.5" y1="123.6" x2="202.7" y2="123.6" stroke="#f9cfd0" stroke-width="0.81"/>
<line x1="202.7" y1="123.6" x2="218.5" y2="123.6" stroke="#d98388" stroke-width="2.7"/>
<line x1="202.7" y1="123.6" x2="218.5" y2="123.6" stroke="#eb9ea3" stroke-width="2.11"/>
<line x1="202.7" y1="123.6" x2="218.5" y2="123.6" stroke="#f9cfd0" stroke-width="0.81"/>
<line x1="218.5" y1="123.6" x2="221.0" y2="123.6" stroke="#d98388" stroke-width="2.7"/>
<line x1="218.5" y1="123.6" x2="221.0" y2="123.6" stroke="#eb9ea3" stroke-width="2.11"/>
<line x1="218.5" y1="123.6" x2="221.0" y2="123.6" stroke="#f9cfd0" stroke-width="0.81"/>
<line x1="221.0" y1="123.6" x2="223.5" y2="123.6" stroke="#4a9acb" stroke-width="2.7"/>
<line x1="221.0" y1="123.6" x2="223.5" y2="123.6" stroke="#62b4de" stroke-width="2.11"/>
<line x1="221.0" y1="123.6" x2="223.5" y2="123.6" stroke="#a9dcf5" stroke-width="0.81"/>
<line x1="223.5" y1="123.6" x2="232.7" y2="123.6" stroke="#4a9acb" stroke-width="2.7"/>
<line x1="223.5" y1="123.6" x2="232.7" y2="123.6" stroke="#62b4de" stroke-width="2.11"/>
<line x1="223.5" y1="123.6" x2="232.7" y2="123.6" stroke="#a9dcf5" stroke-width="0.81"/>
<line x1="232.7" y1="123.6" x2="241.8" y2="123.6" stroke="#d98388" stroke-width="2.7"/>
<line x1="232.7" y1="123.6" x2="241.8" y2="123.6" stroke="#eb9ea3" stroke-width="2.11"/>
<line x1="232.7" y1="123.6" x2="241.8" y2="123.6" stroke="#f9cfd0" stroke-width="0.81"/>
<line x1="273.0" y1="123.6" x2="282.8" y2="123.6" stroke="#d98388" stroke-width="2.7"/>
<line x1="273.0" y1="123.6" x2="282.8" y2="123.6" stroke="#eb9ea3" stroke-width="2.11"/>
<line x1="273.0" y1="123.6" x2="282.8" y2="123.6" stroke="#f9cfd0" stroke-width="0.81"/>
<line x1="282.8" y1="123.6" x2="292.6" y2="123.6" stroke="#4a9acb" stroke-width="2.7"/>
<line x1="282.8" y1="123.6" x2="292.6" y2="123.6" stroke="#62b4de" stroke-width="2.11"/>
<line x1="282.8" y1="123.6" x2="292.6" y2="123.6" stroke="#a9dcf5" stroke-width="0.81"/>
<line x1="292.6" y1="123.6" x2="294.7" y2="123.6" stroke="#4a9acb" stroke-width="2.7"/>
<line x1="292.6" y1="123.6" x2="294.7" y2="123.6" stroke="#62b4de" stroke-width="2.11"/>
<line x1="292.6" y1="123.6" x2="294.7" y2="123.6" stroke="#a9dcf5" stroke-width="0.81"/>
<line x1="294.7" y1="123.6" x2="296.9" y2="123.6" stroke="#d98388" stroke-width="2.7"/>
<line x1="294.7" y1="123.6" x2="296.9" y2="123.6" stroke="#eb9ea3" stroke-width="2.11"/>
<line x1="294.7" y1="123.6" x2="296.9" y2="123.6" stroke="#f9cfd0" stroke-width="0.81"/>
<line x1="296.9" y1="123.6" x2="312.7" y2="123.6" stroke="#d98388" stroke-width="2.7"/>
<line x1="296.9" y1="123.6" x2="312.7" y2="123.6" stroke="#eb9ea3" stroke-width="2.11"/>
<line x1="296.9" y1="123.6" x2="312.7" y2="123.6" stroke="#f9cfd0" stroke-width="0.81"/>
<line x1="312.7" y1="123.6" x2="315.5" y2="123.6" stroke="#d98388" stroke-width="2.7"/>
<line x1="312.7" y1="123.6" x2="315.5" y2="123.6" stroke="#eb9ea3" stroke-width="2.11"/>
<line x1="312.7" y1="123.6" x2="315.5" y2="123.6" stroke="#f9cfd0" stroke-width="0.81"/>
<line x1="315.5" y1="123.6" x2="318.2" y2="123.6" stroke="#4a9acb" stroke-width="2.7"/>
<line x1="315.5" y1="123.6" x2="318.2" y2="123.6" stroke="#62b4de" stroke-width="2.11"/>
<line x1="315.5" y1="123.6" x2="318.2" y2="123.6" stroke="#a9dcf5" stroke-width="0.81"/>
<circle cx="244.9" cy="66.6" r="4.9" fill="url(#gTi)"/>
<circle cx="270.0" cy="66.6" r="4.9" fill="url(#gTi)"/>
<circle cx="198.4" cy="84.2" r="4.9" fill="url(#gTi)"/>
<circle cx="223.5" cy="84.2" r="4.9" fill="url(#gTi)"/>
<circle cx="292.6" cy="84.2" r="4.9" fill="url(#gTi)"/>
<circle cx="318.2" cy="84.2" r="4.9" fill="url(#gTi)"/>
<circle cx="245.4" cy="104.3" r="4.9" fill="url(#gTi)"/>
<circle cx="270.5" cy="104.3" r="4.9" fill="url(#gTi)"/>
<circle cx="198.4" cy="123.6" r="4.9" fill="url(#gTi)"/>
<circle cx="223.5" cy="123.6" r="4.9" fill="url(#gTi)"/>
<circle cx="292.6" cy="123.6" r="4.9" fill="url(#gTi)"/>
<circle cx="318.2" cy="123.6" r="4.9" fill="url(#gTi)"/>
<circle cx="249.9" cy="63.8" r="3.5" fill="url(#gO)"/>
<circle cx="265.5" cy="63.8" r="3.5" fill="url(#gO)"/>
<circle cx="202.7" cy="84.9" r="3.5" fill="url(#gO)"/>
<circle cx="218.5" cy="84.9" r="3.5" fill="url(#gO)"/>
<circle cx="242.9" cy="85.4" r="3.5" fill="url(#gO)"/>
<circle cx="272.0" cy="85.4" r="3.5" fill="url(#gO)"/>
<circle cx="296.9" cy="84.9" r="3.5" fill="url(#gO)"/>
<circle cx="312.7" cy="84.9" r="3.5" fill="url(#gO)"/>
<circle cx="195.1" cy="104.3" r="3.5" fill="url(#gO)"/>
<circle cx="226.0" cy="104.3" r="3.5" fill="url(#gO)"/>
<circle cx="249.9" cy="104.3" r="3.5" fill="url(#gO)"/>
<circle cx="265.5" cy="104.3" r="3.5" fill="url(#gO)"/>
<circle cx="288.8" cy="104.3" r="3.5" fill="url(#gO)"/>
<circle cx="320.7" cy="104.3" r="3.5" fill="url(#gO)"/>
<circle cx="202.7" cy="123.6" r="3.5" fill="url(#gO)"/>
<circle cx="218.5" cy="123.6" r="3.5" fill="url(#gO)"/>
<circle cx="241.8" cy="123.6" r="3.5" fill="url(#gO)"/>
<circle cx="273.0" cy="123.6" r="3.5" fill="url(#gO)"/>
<circle cx="296.9" cy="123.6" r="3.5" fill="url(#gO)"/>
<circle cx="312.7" cy="123.6" r="3.5" fill="url(#gO)"/>
<polygon points="128.8,107.8 173.2,127.9 155.8,165.2 111.0,145.2" fill="none" stroke="#a30e14" stroke-width="2.2"/>
<polygon points="272.0,163.8 316.0,190.2 298.4,218.6 254.9,192.7" fill="none" stroke="#a30e14" stroke-width="2.2"/>
<text x="100.2" y="113.1" font-size="29" fill="#a30e14">1</text>
<text x="42.6" y="45.3" font-size="24.7" fill="#fff">Cu–Ti<tspan font-size="15.8" dy="6.2" dx="0.8">1</tspan><tspan dy="-6.2" dx="0.8">O</tspan><tspan font-size="15.8" dy="6.2" dx="1.8">3</tspan></text>
<rect x="42.7" y="244.2" width="117.3" height="7" fill="#fff"/>
<text x="71.5" y="240" font-size="25" fill="#fff">1 nm</text>
<g clip-path="url(#clipB)"><g filter="url(#nzB)">
<rect x="378.7" y="13.5" width="308.3" height="257.9" fill="#202020"/>
<circle cx="371.6" cy="26.8" r="9.9" fill="url(#dotB)" opacity="0.77"/>
<circle cx="439.7" cy="24.5" r="8.6" fill="url(#dotB)" opacity="0.51"/>
<circle cx="458.2" cy="25.5" r="9.0" fill="url(#dotB)" opacity="0.53"/>
<circle cx="526.2" cy="25.0" r="10.2" fill="url(#dotB)" opacity="0.79"/>
<circle cx="546.2" cy="22.9" r="9.1" fill="url(#dotB)" opacity="0.68"/>
<circle cx="613.8" cy="22.7" r="9.0" fill="url(#dotB)" opacity="0.93"/>
<circle cx="635.7" cy="22.8" r="9.0" fill="url(#dotB)" opacity="0.93"/>
<circle cx="395.7" cy="42.5" r="8.5" fill="url(#dotB)" opacity="0.64"/>
<circle cx="415.7" cy="42.7" r="8.9" fill="url(#dotB)" opacity="0.70"/>
<circle cx="482.2" cy="41.2" r="8.7" fill="url(#dotB)" opacity="0.65"/>
<circle cx="501.8" cy="40.3" r="9.1" fill="url(#dotB)" opacity="0.57"/>
<circle cx="571.4" cy="41.0" r="10.0" fill="url(#dotB)" opacity="0.78"/>
<circle cx="591.2" cy="41.8" r="9.3" fill="url(#dotB)" opacity="0.61"/>
<circle cx="660.0" cy="38.8" r="9.9" fill="url(#dotB)" opacity="0.77"/>
<circle cx="676.6" cy="40.6" r="10.3" fill="url(#dotB)" opacity="0.76"/>
<circle cx="372.8" cy="61.7" r="8.8" fill="url(#dotB)" opacity="0.71"/>
<circle cx="440.0" cy="60.9" r="10.1" fill="url(#dotB)" opacity="0.86"/>
<circle cx="459.8" cy="60.8" r="9.9" fill="url(#dotB)" opacity="0.80"/>
<circle cx="526.6" cy="57.4" r="8.8" fill="url(#dotB)" opacity="0.63"/>
<circle cx="545.7" cy="59.6" r="9.6" fill="url(#dotB)" opacity="0.76"/>
<circle cx="615.2" cy="58.3" r="9.5" fill="url(#dotB)" opacity="0.45"/>
<circle cx="635.2" cy="58.3" r="9.5" fill="url(#dotB)" opacity="0.72"/>
<circle cx="396.8" cy="76.6" r="10.0" fill="url(#dotB)" opacity="0.58"/>
<circle cx="414.5" cy="76.9" r="10.0" fill="url(#dotB)" opacity="0.55"/>
<circle cx="484.4" cy="78.3" r="9.5" fill="url(#dotB)" opacity="0.64"/>
<circle cx="503.1" cy="77.1" r="10.0" fill="url(#dotB)" opacity="0.76"/>
<circle cx="571.5" cy="74.5" r="8.8" fill="url(#dotB)" opacity="0.58"/>
<circle cx="591.3" cy="75.0" r="9.6" fill="url(#dotB)" opacity="0.46"/>
<circle cx="657.2" cy="74.0" r="9.8" fill="url(#dotB)" opacity="0.80"/>
<circle cx="678.5" cy="73.9" r="9.5" fill="url(#dotB)" opacity="0.68"/>
<circle cx="372.0" cy="94.5" r="10.3" fill="url(#dotB)" opacity="0.55"/>
<circle cx="441.4" cy="96.1" r="8.5" fill="url(#dotB)" opacity="0.68"/>
<circle cx="460.5" cy="96.0" r="9.4" fill="url(#dotB)" opacity="0.58"/>
<circle cx="526.5" cy="95.1" r="8.9" fill="url(#dotB)" opacity="0.74"/>
<circle cx="545.8" cy="93.6" r="10.4" fill="url(#dotB)" opacity="0.52"/>
<circle cx="615.8" cy="92.7" r="10.3" fill="url(#dotB)" opacity="0.80"/>
<circle cx="633.5" cy="93.7" r="9.5" fill="url(#dotB)" opacity="0.46"/>
<circle cx="394.8" cy="112.7" r="9.4" fill="url(#dotB)" opacity="0.60"/>
<circle cx="414.7" cy="112.1" r="9.1" fill="url(#dotB)" opacity="0.87"/>
<circle cx="482.2" cy="112.5" r="10.2" fill="url(#dotB)" opacity="0.51"/>
<circle cx="504.5" cy="112.1" r="10.3" fill="url(#dotB)" opacity="0.59"/>
<circle cx="570.7" cy="110.4" r="10.5" fill="url(#dotB)" opacity="0.74"/>
<circle cx="590.2" cy="110.2" r="9.1" fill="url(#dotB)" opacity="0.47"/>
<circle cx="657.3" cy="110.6" r="9.1" fill="url(#dotB)" opacity="0.92"/>
<circle cx="677.2" cy="108.7" r="9.5" fill="url(#dotB)" opacity="0.54"/>
<circle cx="371.7" cy="131.9" r="10.3" fill="url(#dotB)" opacity="0.86"/>
<circle cx="440.4" cy="130.9" r="10.4" fill="url(#dotB)" opacity="0.72"/>
<circle cx="460.2" cy="128.1" r="10.0" fill="url(#dotB)" opacity="0.68"/>
<circle cx="528.2" cy="129.1" r="9.1" fill="url(#dotB)" opacity="0.47"/>
<circle cx="548.2" cy="127.3" r="9.4" fill="url(#dotB)" opacity="0.62"/>
<circle cx="614.2" cy="128.3" r="10.5" fill="url(#dotB)" opacity="0.58"/>
<circle cx="634.8" cy="126.8" r="9.6" fill="url(#dotB)" opacity="0.65"/>
<circle cx="395.3" cy="146.7" r="8.9" fill="url(#dotB)" opacity="0.90"/>
<circle cx="415.8" cy="146.6" r="10.3" fill="url(#dotB)" opacity="0.95"/>
<circle cx="483.5" cy="145.5" r="8.9" fill="url(#dotB)" opacity="0.50"/>
<circle cx="502.7" cy="145.2" r="9.0" fill="url(#dotB)" opacity="0.58"/>
<circle cx="571.3" cy="146.7" r="10.0" fill="url(#dotB)" opacity="0.66"/>
<circle cx="590.3" cy="145.4" r="9.3" fill="url(#dotB)" opacity="0.62"/>
<circle cx="657.2" cy="143.9" r="10.4" fill="url(#dotB)" opacity="0.51"/>
<circle cx="678.0" cy="144.7" r="10.2" fill="url(#dotB)" opacity="0.56"/>
<circle cx="371.4" cy="164.7" r="9.3" fill="url(#dotB)" opacity="0.67"/>
<circle cx="441.4" cy="165.6" r="10.2" fill="url(#dotB)" opacity="0.46"/>
<circle cx="458.1" cy="165.0" r="10.3" fill="url(#dotB)" opacity="0.69"/>
<circle cx="527.7" cy="162.1" r="9.3" fill="url(#dotB)" opacity="0.91"/>
<circle cx="547.9" cy="164.4" r="10.4" fill="url(#dotB)" opacity="0.57"/>
<circle cx="613.6" cy="161.5" r="9.5" fill="url(#dotB)" opacity="0.79"/>
<circle cx="635.6" cy="162.9" r="9.8" fill="url(#dotB)" opacity="0.83"/>
<circle cx="396.2" cy="182.7" r="8.6" fill="url(#dotB)" opacity="0.84"/>
<circle cx="415.0" cy="183.6" r="9.8" fill="url(#dotB)" opacity="0.60"/>
<circle cx="482.6" cy="180.8" r="9.8" fill="url(#dotB)" opacity="0.80"/>
<circle cx="502.0" cy="180.0" r="9.5" fill="url(#dotB)" opacity="0.74"/>
<circle cx="570.8" cy="179.6" r="9.7" fill="url(#dotB)" opacity="0.46"/>
<circle cx="590.0" cy="180.1" r="10.4" fill="url(#dotB)" opacity="0.77"/>
<circle cx="659.7" cy="179.4" r="9.0" fill="url(#dotB)" opacity="0.57"/>
<circle cx="679.4" cy="179.8" r="9.1" fill="url(#dotB)" opacity="0.46"/>
<circle cx="372.1" cy="200.8" r="9.3" fill="url(#dotB)" opacity="0.58"/>
<circle cx="440.5" cy="200.8" r="9.0" fill="url(#dotB)" opacity="0.47"/>
<circle cx="459.0" cy="199.0" r="9.9" fill="url(#dotB)" opacity="0.55"/>
<circle cx="528.3" cy="199.2" r="9.5" fill="url(#dotB)" opacity="0.55"/>
<circle cx="548.3" cy="197.7" r="10.1" fill="url(#dotB)" opacity="0.57"/>
<circle cx="614.0" cy="198.2" r="9.1" fill="url(#dotB)" opacity="0.93"/>
<circle cx="634.3" cy="196.2" r="8.9" fill="url(#dotB)" opacity="0.66"/>
<circle cx="396.8" cy="218.8" r="8.8" fill="url(#dotB)" opacity="0.65"/>
<circle cx="414.9" cy="218.7" r="8.8" fill="url(#dotB)" opacity="0.48"/>
<circle cx="482.4" cy="216.1" r="10.3" fill="url(#dotB)" opacity="0.89"/>
<circle cx="503.9" cy="217.7" r="10.4" fill="url(#dotB)" opacity="0.61"/>
<circle cx="570.2" cy="216.7" r="10.0" fill="url(#dotB)" opacity="0.47"/>
<circle cx="591.1" cy="214.8" r="9.2" fill="url(#dotB)" opacity="0.62"/>
<circle cx="657.5" cy="212.8" r="9.1" fill="url(#dotB)" opacity="0.63"/>
<circle cx="679.4" cy="213.0" r="10.4" fill="url(#dotB)" opacity="0.55"/>
<circle cx="371.7" cy="236.2" r="10.1" fill="url(#dotB)" opacity="0.67"/>
<circle cx="438.6" cy="234.3" r="9.2" fill="url(#dotB)" opacity="0.91"/>
<circle cx="458.6" cy="233.8" r="10.3" fill="url(#dotB)" opacity="0.47"/>
<circle cx="527.1" cy="234.3" r="10.0" fill="url(#dotB)" opacity="0.47"/>
<circle cx="545.5" cy="231.8" r="10.3" fill="url(#dotB)" opacity="0.58"/>
<circle cx="615.5" cy="233.5" r="9.2" fill="url(#dotB)" opacity="0.59"/>
<circle cx="635.7" cy="232.4" r="9.0" fill="url(#dotB)" opacity="0.81"/>
<circle cx="395.7" cy="251.7" r="8.5" fill="url(#dotB)" opacity="0.83"/>
<circle cx="417.0" cy="252.5" r="10.4" fill="url(#dotB)" opacity="0.46"/>
<circle cx="482.9" cy="251.3" r="10.4" fill="url(#dotB)" opacity="0.93"/>
<circle cx="502.9" cy="250.3" r="9.4" fill="url(#dotB)" opacity="0.70"/>
<circle cx="572.4" cy="249.3" r="10.1" fill="url(#dotB)" opacity="0.82"/>
<circle cx="591.6" cy="250.9" r="9.7" fill="url(#dotB)" opacity="0.61"/>
<circle cx="658.0" cy="248.8" r="10.1" fill="url(#dotB)" opacity="0.49"/>
<circle cx="677.1" cy="249.8" r="9.0" fill="url(#dotB)" opacity="0.48"/>
<circle cx="370.7" cy="270.3" r="9.2" fill="url(#dotB)" opacity="0.94"/>
<circle cx="441.2" cy="270.8" r="9.0" fill="url(#dotB)" opacity="0.49"/>
<circle cx="458.3" cy="269.1" r="9.9" fill="url(#dotB)" opacity="0.67"/>
<circle cx="526.6" cy="268.0" r="9.7" fill="url(#dotB)" opacity="0.79"/>
<circle cx="547.6" cy="269.1" r="9.8" fill="url(#dotB)" opacity="0.51"/>
<circle cx="615.8" cy="266.6" r="9.6" fill="url(#dotB)" opacity="0.64"/>
<circle cx="635.0" cy="266.1" r="9.0" fill="url(#dotB)" opacity="0.57"/>
<circle cx="395.3" cy="288.4" r="9.7" fill="url(#dotB)" opacity="0.61"/>
<circle cx="415.5" cy="288.5" r="9.5" fill="url(#dotB)" opacity="0.57"/>
<circle cx="484.6" cy="286.7" r="10.5" fill="url(#dotB)" opacity="0.50"/>
<circle cx="503.1" cy="286.9" r="10.2" fill="url(#dotB)" opacity="0.91"/>
<circle cx="569.7" cy="284.6" r="8.7" fill="url(#dotB)" opacity="0.54"/>
<circle cx="592.0" cy="285.2" r="10.4" fill="url(#dotB)" opacity="0.64"/>
<circle cx="659.6" cy="284.0" r="9.0" fill="url(#dotB)" opacity="0.84"/>
<circle cx="679.3" cy="282.7" r="9.7" fill="url(#dotB)" opacity="0.76"/>
<circle cx="460" cy="95.5" r="11" fill="url(#dotB)" opacity="0.8"/>
</g></g>
<polygon points="460.0,76.8 505.2,111.4 484.7,137.5 439.5,103.2" fill="none" stroke="#a30e14" stroke-width="2.2"/>
<text x="415.6" y="93.2" font-size="28" fill="#a8121a">2</text>
<text x="387.9" y="48.7" font-size="25.1" fill="#fff">Cu–O<tspan font-size="16" dy="6.3" dx="0.8">4</tspan><tspan dy="-6.3" dx="0.6">(Ti)</tspan></text>
<rect x="387" y="248" width="109.8" height="7.5" fill="#fff"/>
<text x="406.3" y="240" font-size="25" fill="#fff">1 nm</text>
<line x1="604.3" y1="190.9" x2="604.3" y2="166" stroke="#fff" stroke-width="3.4"/>
<polygon points="604.3,153.6 597.3,168.3 611.3,168.3" fill="#fff"/>
<line x1="593.3" y1="201.9" x2="567" y2="201.9" stroke="#fff" stroke-width="3.4"/>
<polygon points="554.3,201.9 569.3,195.1 569.3,208.70000000000002" fill="#fff"/>
<circle cx="604.3" cy="201.9" r="11.2" fill="none" stroke="#fff" stroke-width="3.4"/>
<path d="M599.6999999999999,194.70000000000002 L608.9,209.1 M608.9,194.70000000000002 L599.6999999999999,209.1" stroke="#fff" stroke-width="2.5" fill="none"/>
<text x="605.3" y="146.8" font-size="24" fill="#fff" text-anchor="middle">[001]</text>
<text x="555.3" y="228.4" font-size="24" fill="#fff" text-anchor="middle">[010]</text>
<text x="645.8" y="228.4" font-size="24" fill="#fff" text-anchor="middle">[100]</text>
<text x="38" y="322.9" font-size="19.95" fill="#111">Front view from the [100] direction</text>
<text x="285.2" y="379.2" font-size="19.8" fill="#a8121a" text-anchor="middle">Distance between</text>
<text x="285" y="403.1" font-size="19.8" fill="#a8121a" text-anchor="middle">the Cu and Ti atom</text>
<text x="214" y="515.9" font-size="19.8" fill="#111">Top view</text>
<line x1="61.6" y1="350.2" x2="57.2" y2="362.7" stroke="#d98388" stroke-width="3.6"/>
<line x1="61.6" y1="350.2" x2="57.2" y2="362.7" stroke="#eb9ea3" stroke-width="2.81"/>
<line x1="61.6" y1="350.2" x2="57.2" y2="362.7" stroke="#f9cfd0" stroke-width="1.08"/>
<line x1="57.2" y1="362.7" x2="52.9" y2="375.2" stroke="#4a9acb" stroke-width="3.6"/>
<line x1="57.2" y1="362.7" x2="52.9" y2="375.2" stroke="#62b4de" stroke-width="2.81"/>
<line x1="57.2" y1="362.7" x2="52.9" y2="375.2" stroke="#a9dcf5" stroke-width="1.08"/>
<line x1="52.7" y1="374.4" x2="55.6" y2="389.4" stroke="#4a9acb" stroke-width="3.6"/>
<line x1="52.7" y1="374.4" x2="55.6" y2="389.4" stroke="#62b4de" stroke-width="2.81"/>
<line x1="52.7" y1="374.4" x2="55.6" y2="389.4" stroke="#a9dcf5" stroke-width="1.08"/>
<line x1="55.6" y1="389.4" x2="58.5" y2="404.5" stroke="#d98388" stroke-width="3.6"/>
<line x1="55.6" y1="389.4" x2="58.5" y2="404.5" stroke="#eb9ea3" stroke-width="2.81"/>
<line x1="55.6" y1="389.4" x2="58.5" y2="404.5" stroke="#f9cfd0" stroke-width="1.08"/>
<line x1="58.5" y1="404.5" x2="55.4" y2="418.2" stroke="#d98388" stroke-width="3.6"/>
<line x1="58.5" y1="404.5" x2="55.4" y2="418.2" stroke="#eb9ea3" stroke-width="2.81"/>
<line x1="58.5" y1="404.5" x2="55.4" y2="418.2" stroke="#f9cfd0" stroke-width="1.08"/>
<line x1="55.4" y1="418.2" x2="52.2" y2="432.0" stroke="#4a9acb" stroke-width="3.6"/>
<line x1="55.4" y1="418.2" x2="52.2" y2="432.0" stroke="#62b4de" stroke-width="2.81"/>
<line x1="55.4" y1="418.2" x2="52.2" y2="432.0" stroke="#a9dcf5" stroke-width="1.08"/>
<line x1="156.1" y1="377.6" x2="152.9" y2="391.1" stroke="#4a9acb" stroke-width="3.6"/>
<line x1="156.1" y1="377.6" x2="152.9" y2="391.1" stroke="#62b4de" stroke-width="2.81"/>
<line x1="156.1" y1="377.6" x2="152.9" y2="391.1" stroke="#a9dcf5" stroke-width="1.08"/>
<line x1="152.9" y1="391.1" x2="149.7" y2="404.6" stroke="#d98388" stroke-width="3.6"/>
<line x1="152.9" y1="391.1" x2="149.7" y2="404.6" stroke="#eb9ea3" stroke-width="2.81"/>
<line x1="152.9" y1="391.1" x2="149.7" y2="404.6" stroke="#f9cfd0" stroke-width="1.08"/>
<line x1="149.7" y1="404.6" x2="152.8" y2="417.8" stroke="#d98388" stroke-width="3.6"/>
<line x1="149.7" y1="404.6" x2="152.8" y2="417.8" stroke="#eb9ea3" stroke-width="2.81"/>
<line x1="149.7" y1="404.6" x2="152.8" y2="417.8" stroke="#f9cfd0" stroke-width="1.08"/>
<line x1="152.8" y1="417.8" x2="155.9" y2="430.9" stroke="#4a9acb" stroke-width="3.6"/>
<line x1="152.8" y1="417.8" x2="155.9" y2="430.9" stroke="#62b4de" stroke-width="2.81"/>
<line x1="152.8" y1="417.8" x2="155.9" y2="430.9" stroke="#a9dcf5" stroke-width="1.08"/>
<line x1="153.5" y1="375.2" x2="167.9" y2="374.5" stroke="#4a9acb" stroke-width="3.6"/>
<line x1="153.5" y1="375.2" x2="167.9" y2="374.5" stroke="#62b4de" stroke-width="2.81"/>
<line x1="153.5" y1="375.2" x2="167.9" y2="374.5" stroke="#a9dcf5" stroke-width="1.08"/>
<line x1="167.9" y1="374.5" x2="182.4" y2="373.8" stroke="#d98388" stroke-width="3.6"/>
<line x1="167.9" y1="374.5" x2="182.4" y2="373.8" stroke="#eb9ea3" stroke-width="2.81"/>
<line x1="167.9" y1="374.5" x2="182.4" y2="373.8" stroke="#f9cfd0" stroke-width="1.08"/>
<line x1="87.4" y1="350.7" x2="85.0" y2="363.9" stroke="#4a9acb" stroke-width="3.6"/>
<line x1="87.4" y1="350.7" x2="85.0" y2="363.9" stroke="#62b4de" stroke-width="2.81"/>
<line x1="87.4" y1="350.7" x2="85.0" y2="363.9" stroke="#a9dcf5" stroke-width="1.08"/>
<line x1="85.0" y1="363.9" x2="82.6" y2="377.0" stroke="#d98388" stroke-width="3.6"/>
<line x1="85.0" y1="363.9" x2="82.6" y2="377.0" stroke="#eb9ea3" stroke-width="2.81"/>
<line x1="85.0" y1="363.9" x2="82.6" y2="377.0" stroke="#f9cfd0" stroke-width="1.08"/>
<line x1="86.8" y1="404.2" x2="83.8" y2="418.2" stroke="#4a9acb" stroke-width="3.6"/>
<line x1="86.8" y1="404.2" x2="83.8" y2="418.2" stroke="#62b4de" stroke-width="2.81"/>
<line x1="86.8" y1="404.2" x2="83.8" y2="418.2" stroke="#a9dcf5" stroke-width="1.08"/>
<line x1="83.8" y1="418.2" x2="80.7" y2="432.3" stroke="#d98388" stroke-width="3.6"/>
<line x1="83.8" y1="418.2" x2="80.7" y2="432.3" stroke="#eb9ea3" stroke-width="2.81"/>
<line x1="83.8" y1="418.2" x2="80.7" y2="432.3" stroke="#f9cfd0" stroke-width="1.08"/>
<line x1="58.4" y1="349.4" x2="71.8" y2="350.0" stroke="#d98388" stroke-width="4.0"/>
<line x1="58.4" y1="349.4" x2="71.8" y2="350.0" stroke="#eb9ea3" stroke-width="3.12"/>
<line x1="58.4" y1="349.4" x2="71.8" y2="350.0" stroke="#f9cfd0" stroke-width="1.20"/>
<line x1="71.8" y1="350.0" x2="85.2" y2="350.7" stroke="#4a9acb" stroke-width="4.0"/>
<line x1="71.8" y1="350.0" x2="85.2" y2="350.7" stroke="#62b4de" stroke-width="3.12"/>
<line x1="71.8" y1="350.0" x2="85.2" y2="350.7" stroke="#a9dcf5" stroke-width="1.20"/>
<line x1="85.2" y1="350.7" x2="100.3" y2="348.5" stroke="#4a9acb" stroke-width="4.0"/>
<line x1="85.2" y1="350.7" x2="100.3" y2="348.5" stroke="#62b4de" stroke-width="3.12"/>
<line x1="85.2" y1="350.7" x2="100.3" y2="348.5" stroke="#a9dcf5" stroke-width="1.20"/>
<line x1="100.3" y1="348.5" x2="115.4" y2="346.4" stroke="#d98388" stroke-width="4.0"/>
<line x1="100.3" y1="348.5" x2="115.4" y2="346.4" stroke="#eb9ea3" stroke-width="3.12"/>
<line x1="100.3" y1="348.5" x2="115.4" y2="346.4" stroke="#f9cfd0" stroke-width="1.20"/>
<line x1="58.4" y1="349.4" x2="54.0" y2="361.9" stroke="#d98388" stroke-width="4.0"/>
<line x1="58.4" y1="349.4" x2="54.0" y2="361.9" stroke="#eb9ea3" stroke-width="3.12"/>
<line x1="58.4" y1="349.4" x2="54.0" y2="361.9" stroke="#f9cfd0" stroke-width="1.20"/>
<line x1="54.0" y1="361.9" x2="49.7" y2="374.4" stroke="#4a9acb" stroke-width="4.0"/>
<line x1="54.0" y1="361.9" x2="49.7" y2="374.4" stroke="#62b4de" stroke-width="3.12"/>
<line x1="54.0" y1="361.9" x2="49.7" y2="374.4" stroke="#a9dcf5" stroke-width="1.20"/>
<line x1="85.2" y1="350.7" x2="82.8" y2="363.9" stroke="#4a9acb" stroke-width="4.0"/>
<line x1="85.2" y1="350.7" x2="82.8" y2="363.9" stroke="#62b4de" stroke-width="3.12"/>
<line x1="85.2" y1="350.7" x2="82.8" y2="363.9" stroke="#a9dcf5" stroke-width="1.20"/>
<line x1="82.8" y1="363.9" x2="80.4" y2="377.0" stroke="#d98388" stroke-width="4.0"/>
<line x1="82.8" y1="363.9" x2="80.4" y2="377.0" stroke="#eb9ea3" stroke-width="3.12"/>
<line x1="82.8" y1="363.9" x2="80.4" y2="377.0" stroke="#f9cfd0" stroke-width="1.20"/>
<line x1="49.7" y1="374.4" x2="65.1" y2="375.7" stroke="#4a9acb" stroke-width="4.0"/>
<line x1="49.7" y1="374.4" x2="65.1" y2="375.7" stroke="#62b4de" stroke-width="3.12"/>
<line x1="49.7" y1="374.4" x2="65.1" y2="375.7" stroke="#a9dcf5" stroke-width="1.20"/>
<line x1="65.1" y1="375.7" x2="80.4" y2="377.0" stroke="#d98388" stroke-width="4.0"/>
<line x1="65.1" y1="375.7" x2="80.4" y2="377.0" stroke="#eb9ea3" stroke-width="3.12"/>
<line x1="65.1" y1="375.7" x2="80.4" y2="377.0" stroke="#f9cfd0" stroke-width="1.20"/>
<line x1="49.7" y1="374.4" x2="52.6" y2="389.4" stroke="#4a9acb" stroke-width="4.0"/>
<line x1="49.7" y1="374.4" x2="52.6" y2="389.4" stroke="#62b4de" stroke-width="3.12"/>
<line x1="49.7" y1="374.4" x2="52.6" y2="389.4" stroke="#a9dcf5" stroke-width="1.20"/>
<line x1="52.6" y1="389.4" x2="55.5" y2="404.5" stroke="#d98388" stroke-width="4.0"/>
<line x1="52.6" y1="389.4" x2="55.5" y2="404.5" stroke="#eb9ea3" stroke-width="3.12"/>
<line x1="52.6" y1="389.4" x2="55.5" y2="404.5" stroke="#f9cfd0" stroke-width="1.20"/>
<line x1="80.4" y1="377.0" x2="82.5" y2="390.6" stroke="#d98388" stroke-width="4.0"/>
<line x1="80.4" y1="377.0" x2="82.5" y2="390.6" stroke="#eb9ea3" stroke-width="3.12"/>
<line x1="80.4" y1="377.0" x2="82.5" y2="390.6" stroke="#f9cfd0" stroke-width="1.20"/>
<line x1="82.5" y1="390.6" x2="84.6" y2="404.2" stroke="#4a9acb" stroke-width="4.0"/>
<line x1="82.5" y1="390.6" x2="84.6" y2="404.2" stroke="#62b4de" stroke-width="3.12"/>
<line x1="82.5" y1="390.6" x2="84.6" y2="404.2" stroke="#a9dcf5" stroke-width="1.20"/>
<line x1="55.5" y1="404.5" x2="70.0" y2="404.4" stroke="#d98388" stroke-width="4.0"/>
<line x1="55.5" y1="404.5" x2="70.0" y2="404.4" stroke="#eb9ea3" stroke-width="3.12"/>
<line x1="55.5" y1="404.5" x2="70.0" y2="404.4" stroke="#f9cfd0" stroke-width="1.20"/>
<line x1="70.0" y1="404.4" x2="84.6" y2="404.2" stroke="#4a9acb" stroke-width="4.0"/>
<line x1="70.0" y1="404.4" x2="84.6" y2="404.2" stroke="#62b4de" stroke-width="3.12"/>
<line x1="70.0" y1="404.4" x2="84.6" y2="404.2" stroke="#a9dcf5" stroke-width="1.20"/>
<line x1="55.5" y1="404.5" x2="52.4" y2="418.2" stroke="#d98388" stroke-width="4.0"/>
<line x1="55.5" y1="404.5" x2="52.4" y2="418.2" stroke="#eb9ea3" stroke-width="3.12"/>
<line x1="55.5" y1="404.5" x2="52.4" y2="418.2" stroke="#f9cfd0" stroke-width="1.20"/>
<line x1="52.4" y1="418.2" x2="49.2" y2="432.0" stroke="#4a9acb" stroke-width="4.0"/>
<line x1="52.4" y1="418.2" x2="49.2" y2="432.0" stroke="#62b4de" stroke-width="3.12"/>
<line x1="52.4" y1="418.2" x2="49.2" y2="432.0" stroke="#a9dcf5" stroke-width="1.20"/>
<line x1="84.6" y1="404.2" x2="81.5" y2="418.2" stroke="#4a9acb" stroke-width="4.0"/>
<line x1="84.6" y1="404.2" x2="81.5" y2="418.2" stroke="#62b4de" stroke-width="3.12"/>
<line x1="84.6" y1="404.2" x2="81.5" y2="418.2" stroke="#a9dcf5" stroke-width="1.20"/>
<line x1="81.5" y1="418.2" x2="78.5" y2="432.3" stroke="#d98388" stroke-width="4.0"/>
<line x1="81.5" y1="418.2" x2="78.5" y2="432.3" stroke="#eb9ea3" stroke-width="3.12"/>
<line x1="81.5" y1="418.2" x2="78.5" y2="432.3" stroke="#f9cfd0" stroke-width="1.20"/>
<line x1="49.2" y1="432.0" x2="63.9" y2="432.1" stroke="#4a9acb" stroke-width="4.0"/>
<line x1="49.2" y1="432.0" x2="63.9" y2="432.1" stroke="#62b4de" stroke-width="3.12"/>
<line x1="49.2" y1="432.0" x2="63.9" y2="432.1" stroke="#a9dcf5" stroke-width="1.20"/>
<line x1="63.9" y1="432.1" x2="78.5" y2="432.3" stroke="#d98388" stroke-width="4.0"/>
<line x1="63.9" y1="432.1" x2="78.5" y2="432.3" stroke="#eb9ea3" stroke-width="3.12"/>
<line x1="63.9" y1="432.1" x2="78.5" y2="432.3" stroke="#f9cfd0" stroke-width="1.20"/>
<line x1="84.6" y1="404.2" x2="99.0" y2="404.3" stroke="#4a9acb" stroke-width="4.0"/>
<line x1="84.6" y1="404.2" x2="99.0" y2="404.3" stroke="#62b4de" stroke-width="3.12"/>
<line x1="84.6" y1="404.2" x2="99.0" y2="404.3" stroke="#a9dcf5" stroke-width="1.20"/>
<line x1="99.0" y1="404.3" x2="113.4" y2="404.4" stroke="#d98388" stroke-width="4.0"/>
<line x1="99.0" y1="404.3" x2="113.4" y2="404.4" stroke="#eb9ea3" stroke-width="3.12"/>
<line x1="99.0" y1="404.3" x2="113.4" y2="404.4" stroke="#f9cfd0" stroke-width="1.20"/>
<line x1="113.4" y1="404.4" x2="117.0" y2="404.6" stroke="#d98388" stroke-width="4.0"/>
<line x1="113.4" y1="404.4" x2="117.0" y2="404.6" stroke="#eb9ea3" stroke-width="3.12"/>
<line x1="113.4" y1="404.4" x2="117.0" y2="404.6" stroke="#f9cfd0" stroke-width="1.20"/>
<line x1="117.0" y1="404.6" x2="120.6" y2="404.8" stroke="#4a9acb" stroke-width="4.0"/>
<line x1="117.0" y1="404.6" x2="120.6" y2="404.8" stroke="#62b4de" stroke-width="3.12"/>
<line x1="117.0" y1="404.6" x2="120.6" y2="404.8" stroke="#a9dcf5" stroke-width="1.20"/>
<line x1="119.3" y1="352.6" x2="123.0" y2="364.4" stroke="#4a9acb" stroke-width="4.0"/>
<line x1="119.3" y1="352.6" x2="123.0" y2="364.4" stroke="#62b4de" stroke-width="3.12"/>
<line x1="119.3" y1="352.6" x2="123.0" y2="364.4" stroke="#a9dcf5" stroke-width="1.20"/>
<line x1="123.0" y1="364.4" x2="126.7" y2="376.2" stroke="#d98388" stroke-width="4.0"/>
<line x1="123.0" y1="364.4" x2="126.7" y2="376.2" stroke="#eb9ea3" stroke-width="3.12"/>
<line x1="123.0" y1="364.4" x2="126.7" y2="376.2" stroke="#f9cfd0" stroke-width="1.20"/>
<line x1="126.7" y1="376.2" x2="123.7" y2="390.5" stroke="#d98388" stroke-width="4.0"/>
<line x1="126.7" y1="376.2" x2="123.7" y2="390.5" stroke="#eb9ea3" stroke-width="3.12"/>
<line x1="126.7" y1="376.2" x2="123.7" y2="390.5" stroke="#f9cfd0" stroke-width="1.20"/>
<line x1="123.7" y1="390.5" x2="120.6" y2="404.8" stroke="#4a9acb" stroke-width="4.0"/>
<line x1="123.7" y1="390.5" x2="120.6" y2="404.8" stroke="#62b4de" stroke-width="3.12"/>
<line x1="123.7" y1="390.5" x2="120.6" y2="404.8" stroke="#a9dcf5" stroke-width="1.20"/>
<line x1="126.7" y1="376.2" x2="140.1" y2="376.9" stroke="#d98388" stroke-width="4.0"/>
<line x1="126.7" y1="376.2" x2="140.1" y2="376.9" stroke="#eb9ea3" stroke-width="3.12"/>
<line x1="126.7" y1="376.2" x2="140.1" y2="376.9" stroke="#f9cfd0" stroke-width="1.20"/>
<line x1="140.1" y1="376.9" x2="153.5" y2="377.6" stroke="#4a9acb" stroke-width="4.0"/>
<line x1="140.1" y1="376.9" x2="153.5" y2="377.6" stroke="#62b4de" stroke-width="3.12"/>
<line x1="140.1" y1="376.9" x2="153.5" y2="377.6" stroke="#a9dcf5" stroke-width="1.20"/>
<line x1="153.5" y1="377.6" x2="167.9" y2="376.9" stroke="#4a9acb" stroke-width="4.0"/>
<line x1="153.5" y1="377.6" x2="167.9" y2="376.9" stroke="#62b4de" stroke-width="3.12"/>
<line x1="153.5" y1="377.6" x2="167.9" y2="376.9" stroke="#a9dcf5" stroke-width="1.20"/>
<line x1="167.9" y1="376.9" x2="182.4" y2="376.2" stroke="#d98388" stroke-width="4.0"/>
<line x1="167.9" y1="376.9" x2="182.4" y2="376.2" stroke="#eb9ea3" stroke-width="3.12"/>
<line x1="167.9" y1="376.9" x2="182.4" y2="376.2" stroke="#f9cfd0" stroke-width="1.20"/>
<line x1="182.4" y1="376.2" x2="185.1" y2="374.8" stroke="#d98388" stroke-width="4.0"/>
<line x1="182.4" y1="376.2" x2="185.1" y2="374.8" stroke="#eb9ea3" stroke-width="3.12"/>
<line x1="182.4" y1="376.2" x2="185.1" y2="374.8" stroke="#f9cfd0" stroke-width="1.20"/>
<line x1="185.1" y1="374.8" x2="187.8" y2="373.4" stroke="#4a9acb" stroke-width="4.0"/>
<line x1="185.1" y1="374.8" x2="187.8" y2="373.4" stroke="#62b4de" stroke-width="3.12"/>
<line x1="185.1" y1="374.8" x2="187.8" y2="373.4" stroke="#a9dcf5" stroke-width="1.20"/>
<line x1="153.5" y1="377.6" x2="150.3" y2="391.1" stroke="#4a9acb" stroke-width="4.0"/>
<line x1="153.5" y1="377.6" x2="150.3" y2="391.1" stroke="#62b4de" stroke-width="3.12"/>
<line x1="153.5" y1="377.6" x2="150.3" y2="391.1" stroke="#a9dcf5" stroke-width="1.20"/>
<line x1="150.3" y1="391.1" x2="147.1" y2="404.6" stroke="#d98388" stroke-width="4.0"/>
<line x1="150.3" y1="391.1" x2="147.1" y2="404.6" stroke="#eb9ea3" stroke-width="3.12"/>
<line x1="150.3" y1="391.1" x2="147.1" y2="404.6" stroke="#f9cfd0" stroke-width="1.20"/>
<line x1="120.6" y1="404.8" x2="133.8" y2="404.7" stroke="#4a9acb" stroke-width="4.0"/>
<line x1="120.6" y1="404.8" x2="133.8" y2="404.7" stroke="#62b4de" stroke-width="3.12"/>
<line x1="120.6" y1="404.8" x2="133.8" y2="404.7" stroke="#a9dcf5" stroke-width="1.20"/>
<line x1="133.8" y1="404.7" x2="147.1" y2="404.6" stroke="#d98388" stroke-width="4.0"/>
<line x1="133.8" y1="404.7" x2="147.1" y2="404.6" stroke="#eb9ea3" stroke-width="3.12"/>
<line x1="133.8" y1="404.7" x2="147.1" y2="404.6" stroke="#f9cfd0" stroke-width="1.20"/>
<line x1="120.6" y1="404.8" x2="123.2" y2="418.1" stroke="#4a9acb" stroke-width="4.0"/>
<line x1="120.6" y1="404.8" x2="123.2" y2="418.1" stroke="#62b4de" stroke-width="3.12"/>
<line x1="120.6" y1="404.8" x2="123.2" y2="418.1" stroke="#a9dcf5" stroke-width="1.20"/>
<line x1="123.2" y1="418.1" x2="125.8" y2="431.5" stroke="#d98388" stroke-width="4.0"/>
<line x1="123.2" y1="418.1" x2="125.8" y2="431.5" stroke="#eb9ea3" stroke-width="3.12"/>
<line x1="123.2" y1="418.1" x2="125.8" y2="431.5" stroke="#f9cfd0" stroke-width="1.20"/>
<line x1="147.1" y1="404.6" x2="150.2" y2="417.8" stroke="#d98388" stroke-width="4.0"/>
<line x1="147.1" y1="404.6" x2="150.2" y2="417.8" stroke="#eb9ea3" stroke-width="3.12"/>
<line x1="147.1" y1="404.6" x2="150.2" y2="417.8" stroke="#f9cfd0" stroke-width="1.20"/>
<line x1="150.2" y1="417.8" x2="153.3" y2="430.9" stroke="#4a9acb" stroke-width="4.0"/>
<line x1="150.2" y1="417.8" x2="153.3" y2="430.9" stroke="#62b4de" stroke-width="3.12"/>
<line x1="150.2" y1="417.8" x2="153.3" y2="430.9" stroke="#a9dcf5" stroke-width="1.20"/>
<line x1="125.8" y1="431.5" x2="139.6" y2="431.2" stroke="#d98388" stroke-width="4.0"/>
<line x1="125.8" y1="431.5" x2="139.6" y2="431.2" stroke="#eb9ea3" stroke-width="3.12"/>
<line x1="125.8" y1="431.5" x2="139.6" y2="431.2" stroke="#f9cfd0" stroke-width="1.20"/>
<line x1="139.6" y1="431.2" x2="153.3" y2="430.9" stroke="#4a9acb" stroke-width="4.0"/>
<line x1="139.6" y1="431.2" x2="153.3" y2="430.9" stroke="#62b4de" stroke-width="3.12"/>
<line x1="139.6" y1="431.2" x2="153.3" y2="430.9" stroke="#a9dcf5" stroke-width="1.20"/>
<line x1="153.3" y1="430.9" x2="167.5" y2="431.0" stroke="#4a9acb" stroke-width="4.0"/>
<line x1="153.3" y1="430.9" x2="167.5" y2="431.0" stroke="#62b4de" stroke-width="3.12"/>
<line x1="153.3" y1="430.9" x2="167.5" y2="431.0" stroke="#a9dcf5" stroke-width="1.20"/>
<line x1="167.5" y1="431.0" x2="181.7" y2="431.2" stroke="#d98388" stroke-width="4.0"/>
<line x1="167.5" y1="431.0" x2="181.7" y2="431.2" stroke="#eb9ea3" stroke-width="3.12"/>
<line x1="167.5" y1="431.0" x2="181.7" y2="431.2" stroke="#f9cfd0" stroke-width="1.20"/>
<line x1="181.7" y1="431.2" x2="184.9" y2="430.6" stroke="#d98388" stroke-width="4.0"/>
<line x1="181.7" y1="431.2" x2="184.9" y2="430.6" stroke="#eb9ea3" stroke-width="3.12"/>
<line x1="181.7" y1="431.2" x2="184.9" y2="430.6" stroke="#f9cfd0" stroke-width="1.20"/>
<line x1="184.9" y1="430.6" x2="188.2" y2="430.0" stroke="#4a9acb" stroke-width="4.0"/>
<line x1="184.9" y1="430.6" x2="188.2" y2="430.0" stroke="#62b4de" stroke-width="3.12"/>
<line x1="184.9" y1="430.6" x2="188.2" y2="430.0" stroke="#a9dcf5" stroke-width="1.20"/>
<line x1="187.8" y1="373.4" x2="190.2" y2="388.8" stroke="#4a9acb" stroke-width="4.0"/>
<line x1="187.8" y1="373.4" x2="190.2" y2="388.8" stroke="#62b4de" stroke-width="3.12"/>
<line x1="187.8" y1="373.4" x2="190.2" y2="388.8" stroke="#a9dcf5" stroke-width="1.20"/>
<line x1="190.2" y1="388.8" x2="192.6" y2="404.2" stroke="#d98388" stroke-width="4.0"/>
<line x1="190.2" y1="388.8" x2="192.6" y2="404.2" stroke="#eb9ea3" stroke-width="3.12"/>
<line x1="190.2" y1="388.8" x2="192.6" y2="404.2" stroke="#f9cfd0" stroke-width="1.20"/>
<line x1="192.6" y1="404.2" x2="190.4" y2="417.1" stroke="#d98388" stroke-width="4.0"/>
<line x1="192.6" y1="404.2" x2="190.4" y2="417.1" stroke="#eb9ea3" stroke-width="3.12"/>
<line x1="192.6" y1="404.2" x2="190.4" y2="417.1" stroke="#f9cfd0" stroke-width="1.20"/>
<line x1="190.4" y1="417.1" x2="188.2" y2="430.0" stroke="#4a9acb" stroke-width="4.0"/>
<line x1="190.4" y1="417.1" x2="188.2" y2="430.0" stroke="#62b4de" stroke-width="3.12"/>
<line x1="190.4" y1="417.1" x2="188.2" y2="430.0" stroke="#a9dcf5" stroke-width="1.20"/>
<line x1="89.1" y1="344.7" x2="87.2" y2="347.7" stroke="#d98388" stroke-width="4.0"/>
<line x1="89.1" y1="344.7" x2="87.2" y2="347.7" stroke="#eb9ea3" stroke-width="3.12"/>
<line x1="89.1" y1="344.7" x2="87.2" y2="347.7" stroke="#f9cfd0" stroke-width="1.20"/>
<line x1="87.2" y1="347.7" x2="85.2" y2="350.7" stroke="#4a9acb" stroke-width="4.0"/>
<line x1="87.2" y1="347.7" x2="85.2" y2="350.7" stroke="#62b4de" stroke-width="3.12"/>
<line x1="87.2" y1="347.7" x2="85.2" y2="350.7" stroke="#a9dcf5" stroke-width="1.20"/>
<line x1="153.5" y1="377.6" x2="156.1" y2="375.0" stroke="#4a9acb" stroke-width="4.0"/>
<line x1="153.5" y1="377.6" x2="156.1" y2="375.0" stroke="#62b4de" stroke-width="3.12"/>
<line x1="153.5" y1="377.6" x2="156.1" y2="375.0" stroke="#a9dcf5" stroke-width="1.20"/>
<line x1="156.1" y1="375.0" x2="158.7" y2="372.3" stroke="#d98388" stroke-width="4.0"/>
<line x1="156.1" y1="375.0" x2="158.7" y2="372.3" stroke="#eb9ea3" stroke-width="3.12"/>
<line x1="156.1" y1="375.0" x2="158.7" y2="372.3" stroke="#f9cfd0" stroke-width="1.20"/>
<line x1="84.6" y1="404.2" x2="87.8" y2="404.0" stroke="#4a9acb" stroke-width="4.0"/>
<line x1="84.6" y1="404.2" x2="87.8" y2="404.0" stroke="#62b4de" stroke-width="3.12"/>
<line x1="84.6" y1="404.2" x2="87.8" y2="404.0" stroke="#a9dcf5" stroke-width="1.20"/>
<line x1="87.8" y1="404.0" x2="91.0" y2="403.8" stroke="#d98388" stroke-width="4.0"/>
<line x1="87.8" y1="404.0" x2="91.0" y2="403.8" stroke="#eb9ea3" stroke-width="3.12"/>
<line x1="87.8" y1="404.0" x2="91.0" y2="403.8" stroke="#f9cfd0" stroke-width="1.20"/>
<line x1="49.2" y1="432.0" x2="45.9" y2="431.0" stroke="#4a9acb" stroke-width="4.0"/>
<line x1="49.2" y1="432.0" x2="45.9" y2="431.0" stroke="#62b4de" stroke-width="3.12"/>
<line x1="49.2" y1="432.0" x2="45.9" y2="431.0" stroke="#a9dcf5" stroke-width="1.20"/>
<line x1="45.9" y1="431.0" x2="42.6" y2="430.0" stroke="#d98388" stroke-width="4.0"/>
<line x1="45.9" y1="431.0" x2="42.6" y2="430.0" stroke="#eb9ea3" stroke-width="3.12"/>
<line x1="45.9" y1="431.0" x2="42.6" y2="430.0" stroke="#f9cfd0" stroke-width="1.20"/>
<circle cx="89.1" cy="344.7" r="5.0" fill="url(#gO)"/>
<circle cx="119.3" cy="352.6" r="7.2" fill="url(#gTi)"/>
<circle cx="158.7" cy="372.3" r="5.0" fill="url(#gO)"/>
<circle cx="91.0" cy="403.8" r="5.0" fill="url(#gO)"/>
<circle cx="42.6" cy="430.0" r="5.0" fill="url(#gO)"/>
<circle cx="43.3" cy="377.5" r="5.0" fill="url(#gO)"/>
<circle cx="85.2" cy="350.7" r="7.6" fill="url(#gTi)"/>
<circle cx="49.7" cy="374.4" r="7.6" fill="url(#gTi)"/>
<circle cx="153.5" cy="377.6" r="7.6" fill="url(#gTi)"/>
<circle cx="187.8" cy="373.4" r="7.6" fill="url(#gTi)"/>
<circle cx="84.6" cy="404.2" r="7.6" fill="url(#gTi)"/>
<circle cx="120.6" cy="404.8" r="7.6" fill="url(#gTi)"/>
<circle cx="49.2" cy="432.0" r="7.6" fill="url(#gTi)"/>
<circle cx="153.3" cy="430.9" r="7.6" fill="url(#gTi)"/>
<circle cx="188.2" cy="430.0" r="7.6" fill="url(#gTi)"/>
<circle cx="124.6" cy="350.2" r="6.4" fill="url(#gCu)"/>
<circle cx="58.4" cy="349.4" r="5.5" fill="url(#gO)"/>
<circle cx="80.4" cy="377.0" r="5.5" fill="url(#gO)"/>
<circle cx="126.7" cy="376.2" r="5.5" fill="url(#gO)"/>
<circle cx="182.4" cy="376.2" r="5.5" fill="url(#gO)"/>
<circle cx="55.5" cy="404.5" r="5.5" fill="url(#gO)"/>
<circle cx="113.4" cy="404.4" r="5.5" fill="url(#gO)"/>
<circle cx="147.1" cy="404.6" r="5.5" fill="url(#gO)"/>
<circle cx="192.6" cy="404.2" r="5.5" fill="url(#gO)"/>
<circle cx="78.5" cy="432.3" r="5.5" fill="url(#gO)"/>
<circle cx="125.8" cy="431.5" r="5.5" fill="url(#gO)"/>
<circle cx="181.7" cy="431.2" r="5.5" fill="url(#gO)"/>
<circle cx="115.4" cy="346.4" r="5.5" fill="url(#gO)"/>
<circle cx="124.6" cy="350.2" r="6.3" fill="url(#gCu)"/>
<circle cx="115.4" cy="346.4" r="4.7" fill="url(#gO)"/>
<line x1="49.3" y1="501.7" x2="46.6" y2="516.5" stroke="#4a9acb" stroke-width="3.7800000000000002"/>
<line x1="49.3" y1="501.7" x2="46.6" y2="516.5" stroke="#62b4de" stroke-width="2.95"/>
<line x1="49.3" y1="501.7" x2="46.6" y2="516.5" stroke="#a9dcf5" stroke-width="1.13"/>
<line x1="46.6" y1="516.5" x2="44.0" y2="531.4" stroke="#d98388" stroke-width="3.7800000000000002"/>
<line x1="46.6" y1="516.5" x2="44.0" y2="531.4" stroke="#eb9ea3" stroke-width="2.95"/>
<line x1="46.6" y1="516.5" x2="44.0" y2="531.4" stroke="#f9cfd0" stroke-width="1.13"/>
<line x1="44.0" y1="531.4" x2="47.0" y2="545.1" stroke="#d98388" stroke-width="3.7800000000000002"/>
<line x1="44.0" y1="531.4" x2="47.0" y2="545.1" stroke="#eb9ea3" stroke-width="2.95"/>
<line x1="44.0" y1="531.4" x2="47.0" y2="545.1" stroke="#f9cfd0" stroke-width="1.13"/>
<line x1="47.0" y1="545.1" x2="50.1" y2="558.8" stroke="#4a9acb" stroke-width="3.7800000000000002"/>
<line x1="47.0" y1="545.1" x2="50.1" y2="558.8" stroke="#62b4de" stroke-width="2.95"/>
<line x1="47.0" y1="545.1" x2="50.1" y2="558.8" stroke="#a9dcf5" stroke-width="1.13"/>
<line x1="187.8" y1="502.5" x2="184.9" y2="517.0" stroke="#4a9acb" stroke-width="3.7800000000000002"/>
<line x1="187.8" y1="502.5" x2="184.9" y2="517.0" stroke="#62b4de" stroke-width="2.95"/>
<line x1="187.8" y1="502.5" x2="184.9" y2="517.0" stroke="#a9dcf5" stroke-width="1.13"/>
<line x1="184.9" y1="517.0" x2="182.0" y2="531.4" stroke="#d98388" stroke-width="3.7800000000000002"/>
<line x1="184.9" y1="517.0" x2="182.0" y2="531.4" stroke="#eb9ea3" stroke-width="2.95"/>
<line x1="184.9" y1="517.0" x2="182.0" y2="531.4" stroke="#f9cfd0" stroke-width="1.13"/>
<line x1="181.5" y1="473.4" x2="184.7" y2="487.9" stroke="#d98388" stroke-width="3.7800000000000002"/>
<line x1="181.5" y1="473.4" x2="184.7" y2="487.9" stroke="#eb9ea3" stroke-width="2.95"/>
<line x1="181.5" y1="473.4" x2="184.7" y2="487.9" stroke="#f9cfd0" stroke-width="1.13"/>
<line x1="184.7" y1="487.9" x2="187.8" y2="502.5" stroke="#4a9acb" stroke-width="3.7800000000000002"/>
<line x1="184.7" y1="487.9" x2="187.8" y2="502.5" stroke="#62b4de" stroke-width="2.95"/>
<line x1="184.7" y1="487.9" x2="187.8" y2="502.5" stroke="#a9dcf5" stroke-width="1.13"/>
<line x1="84.9" y1="502.5" x2="86.2" y2="517.0" stroke="#4a9acb" stroke-width="3.7800000000000002"/>
<line x1="84.9" y1="502.5" x2="86.2" y2="517.0" stroke="#62b4de" stroke-width="2.95"/>
<line x1="84.9" y1="502.5" x2="86.2" y2="517.0" stroke="#a9dcf5" stroke-width="1.13"/>
<line x1="86.2" y1="517.0" x2="87.6" y2="531.4" stroke="#d98388" stroke-width="3.7800000000000002"/>
<line x1="86.2" y1="517.0" x2="87.6" y2="531.4" stroke="#eb9ea3" stroke-width="2.95"/>
<line x1="86.2" y1="517.0" x2="87.6" y2="531.4" stroke="#f9cfd0" stroke-width="1.13"/>
<line x1="87.6" y1="531.4" x2="86.2" y2="545.1" stroke="#d98388" stroke-width="3.7800000000000002"/>
<line x1="87.6" y1="531.4" x2="86.2" y2="545.1" stroke="#eb9ea3" stroke-width="2.95"/>
<line x1="87.6" y1="531.4" x2="86.2" y2="545.1" stroke="#f9cfd0" stroke-width="1.13"/>
<line x1="86.2" y1="545.1" x2="84.9" y2="558.8" stroke="#4a9acb" stroke-width="3.7800000000000002"/>
<line x1="86.2" y1="545.1" x2="84.9" y2="558.8" stroke="#62b4de" stroke-width="2.95"/>
<line x1="86.2" y1="545.1" x2="84.9" y2="558.8" stroke="#a9dcf5" stroke-width="1.13"/>
<line x1="111.5" y1="502.5" x2="116.1" y2="517.0" stroke="#d98388" stroke-width="3.7800000000000002"/>
<line x1="111.5" y1="502.5" x2="116.1" y2="517.0" stroke="#eb9ea3" stroke-width="2.95"/>
<line x1="111.5" y1="502.5" x2="116.1" y2="517.0" stroke="#f9cfd0" stroke-width="1.13"/>
<line x1="116.1" y1="517.0" x2="120.7" y2="531.4" stroke="#6a4cc4" stroke-width="3.7800000000000002"/>
<line x1="116.1" y1="517.0" x2="120.7" y2="531.4" stroke="#8566d8" stroke-width="2.95"/>
<line x1="116.1" y1="517.0" x2="120.7" y2="531.4" stroke="#b9a4f0" stroke-width="1.13"/>
<line x1="120.7" y1="531.4" x2="116.1" y2="545.8" stroke="#6a4cc4" stroke-width="3.7800000000000002"/>
<line x1="120.7" y1="531.4" x2="116.1" y2="545.8" stroke="#8566d8" stroke-width="2.95"/>
<line x1="120.7" y1="531.4" x2="116.1" y2="545.8" stroke="#b9a4f0" stroke-width="1.13"/>
<line x1="116.1" y1="545.8" x2="111.5" y2="560.3" stroke="#d98388" stroke-width="3.7800000000000002"/>
<line x1="116.1" y1="545.8" x2="111.5" y2="560.3" stroke="#eb9ea3" stroke-width="2.95"/>
<line x1="116.1" y1="545.8" x2="111.5" y2="560.3" stroke="#f9cfd0" stroke-width="1.13"/>
<line x1="46.3" y1="503.9" x2="50.2" y2="503.5" stroke="#4a9acb" stroke-width="3.7800000000000002"/>
<line x1="46.3" y1="503.9" x2="50.2" y2="503.5" stroke="#62b4de" stroke-width="2.95"/>
<line x1="46.3" y1="503.9" x2="50.2" y2="503.5" stroke="#a9dcf5" stroke-width="1.13"/>
<line x1="50.2" y1="503.5" x2="54.2" y2="503.2" stroke="#d98388" stroke-width="3.7800000000000002"/>
<line x1="50.2" y1="503.5" x2="54.2" y2="503.2" stroke="#eb9ea3" stroke-width="2.95"/>
<line x1="50.2" y1="503.5" x2="54.2" y2="503.2" stroke="#f9cfd0" stroke-width="1.13"/>
<line x1="54.2" y1="503.2" x2="68.3" y2="503.9" stroke="#d98388" stroke-width="3.7800000000000002"/>
<line x1="54.2" y1="503.2" x2="68.3" y2="503.9" stroke="#eb9ea3" stroke-width="2.95"/>
<line x1="54.2" y1="503.2" x2="68.3" y2="503.9" stroke="#f9cfd0" stroke-width="1.13"/>
<line x1="68.3" y1="503.9" x2="82.5" y2="504.7" stroke="#4a9acb" stroke-width="3.7800000000000002"/>
<line x1="68.3" y1="503.9" x2="82.5" y2="504.7" stroke="#62b4de" stroke-width="2.95"/>
<line x1="68.3" y1="503.9" x2="82.5" y2="504.7" stroke="#a9dcf5" stroke-width="1.13"/>
<line x1="47.1" y1="556.6" x2="50.7" y2="557.9" stroke="#4a9acb" stroke-width="3.7800000000000002"/>
<line x1="47.1" y1="556.6" x2="50.7" y2="557.9" stroke="#62b4de" stroke-width="2.95"/>
<line x1="47.1" y1="556.6" x2="50.7" y2="557.9" stroke="#a9dcf5" stroke-width="1.13"/>
<line x1="50.7" y1="557.9" x2="54.2" y2="559.2" stroke="#d98388" stroke-width="3.7800000000000002"/>
<line x1="50.7" y1="557.9" x2="54.2" y2="559.2" stroke="#eb9ea3" stroke-width="2.95"/>
<line x1="50.7" y1="557.9" x2="54.2" y2="559.2" stroke="#f9cfd0" stroke-width="1.13"/>
<line x1="54.2" y1="559.2" x2="68.3" y2="557.9" stroke="#d98388" stroke-width="3.7800000000000002"/>
<line x1="54.2" y1="559.2" x2="68.3" y2="557.9" stroke="#eb9ea3" stroke-width="2.95"/>
<line x1="54.2" y1="559.2" x2="68.3" y2="557.9" stroke="#f9cfd0" stroke-width="1.13"/>
<line x1="68.3" y1="557.9" x2="82.5" y2="556.6" stroke="#4a9acb" stroke-width="3.7800000000000002"/>
<line x1="68.3" y1="557.9" x2="82.5" y2="556.6" stroke="#62b4de" stroke-width="2.95"/>
<line x1="68.3" y1="557.9" x2="82.5" y2="556.6" stroke="#a9dcf5" stroke-width="1.13"/>
<line x1="89.1" y1="473.4" x2="104.2" y2="473.4" stroke="#d98388" stroke-width="4.2"/>
<line x1="89.1" y1="473.4" x2="104.2" y2="473.4" stroke="#eb9ea3" stroke-width="3.28"/>
<line x1="89.1" y1="473.4" x2="104.2" y2="473.4" stroke="#f9cfd0" stroke-width="1.26"/>
<line x1="104.2" y1="473.4" x2="119.3" y2="473.4" stroke="#4a9acb" stroke-width="4.2"/>
<line x1="104.2" y1="473.4" x2="119.3" y2="473.4" stroke="#62b4de" stroke-width="3.28"/>
<line x1="104.2" y1="473.4" x2="119.3" y2="473.4" stroke="#a9dcf5" stroke-width="1.26"/>
<line x1="119.3" y1="473.4" x2="122.7" y2="475.0" stroke="#4a9acb" stroke-width="4.2"/>
<line x1="119.3" y1="473.4" x2="122.7" y2="475.0" stroke="#62b4de" stroke-width="3.28"/>
<line x1="119.3" y1="473.4" x2="122.7" y2="475.0" stroke="#a9dcf5" stroke-width="1.26"/>
<line x1="122.7" y1="475.0" x2="126.0" y2="476.6" stroke="#d98388" stroke-width="4.2"/>
<line x1="122.7" y1="475.0" x2="126.0" y2="476.6" stroke="#eb9ea3" stroke-width="3.28"/>
<line x1="122.7" y1="475.0" x2="126.0" y2="476.6" stroke="#f9cfd0" stroke-width="1.26"/>
<line x1="126.0" y1="476.6" x2="140.0" y2="475.0" stroke="#d98388" stroke-width="4.2"/>
<line x1="126.0" y1="476.6" x2="140.0" y2="475.0" stroke="#eb9ea3" stroke-width="3.28"/>
<line x1="126.0" y1="476.6" x2="140.0" y2="475.0" stroke="#f9cfd0" stroke-width="1.26"/>
<line x1="140.0" y1="475.0" x2="154.0" y2="473.4" stroke="#4a9acb" stroke-width="4.2"/>
<line x1="140.0" y1="475.0" x2="154.0" y2="473.4" stroke="#62b4de" stroke-width="3.28"/>
<line x1="140.0" y1="475.0" x2="154.0" y2="473.4" stroke="#a9dcf5" stroke-width="1.26"/>
<line x1="154.0" y1="473.4" x2="169.2" y2="473.4" stroke="#4a9acb" stroke-width="4.2"/>
<line x1="154.0" y1="473.4" x2="169.2" y2="473.4" stroke="#62b4de" stroke-width="3.28"/>
<line x1="154.0" y1="473.4" x2="169.2" y2="473.4" stroke="#a9dcf5" stroke-width="1.26"/>
<line x1="169.2" y1="473.4" x2="184.5" y2="473.4" stroke="#d98388" stroke-width="4.2"/>
<line x1="169.2" y1="473.4" x2="184.5" y2="473.4" stroke="#eb9ea3" stroke-width="3.28"/>
<line x1="169.2" y1="473.4" x2="184.5" y2="473.4" stroke="#f9cfd0" stroke-width="1.26"/>
<line x1="89.1" y1="473.4" x2="85.8" y2="487.9" stroke="#d98388" stroke-width="4.2"/>
<line x1="89.1" y1="473.4" x2="85.8" y2="487.9" stroke="#eb9ea3" stroke-width="3.28"/>
<line x1="89.1" y1="473.4" x2="85.8" y2="487.9" stroke="#f9cfd0" stroke-width="1.26"/>
<line x1="85.8" y1="487.9" x2="82.5" y2="502.5" stroke="#4a9acb" stroke-width="4.2"/>
<line x1="85.8" y1="487.9" x2="82.5" y2="502.5" stroke="#62b4de" stroke-width="3.28"/>
<line x1="85.8" y1="487.9" x2="82.5" y2="502.5" stroke="#a9dcf5" stroke-width="1.26"/>
<line x1="119.3" y1="473.4" x2="116.7" y2="487.9" stroke="#4a9acb" stroke-width="4.2"/>
<line x1="119.3" y1="473.4" x2="116.7" y2="487.9" stroke="#62b4de" stroke-width="3.28"/>
<line x1="119.3" y1="473.4" x2="116.7" y2="487.9" stroke="#a9dcf5" stroke-width="1.26"/>
<line x1="116.7" y1="487.9" x2="114.1" y2="502.5" stroke="#d98388" stroke-width="4.2"/>
<line x1="116.7" y1="487.9" x2="114.1" y2="502.5" stroke="#eb9ea3" stroke-width="3.28"/>
<line x1="116.7" y1="487.9" x2="114.1" y2="502.5" stroke="#f9cfd0" stroke-width="1.26"/>
<line x1="154.0" y1="473.4" x2="157.3" y2="488.2" stroke="#4a9acb" stroke-width="4.2"/>
<line x1="154.0" y1="473.4" x2="157.3" y2="488.2" stroke="#62b4de" stroke-width="3.28"/>
<line x1="154.0" y1="473.4" x2="157.3" y2="488.2" stroke="#a9dcf5" stroke-width="1.26"/>
<line x1="157.3" y1="488.2" x2="160.6" y2="503.0" stroke="#d98388" stroke-width="4.2"/>
<line x1="157.3" y1="488.2" x2="160.6" y2="503.0" stroke="#eb9ea3" stroke-width="3.28"/>
<line x1="157.3" y1="488.2" x2="160.6" y2="503.0" stroke="#f9cfd0" stroke-width="1.26"/>
<line x1="184.5" y1="473.4" x2="187.7" y2="487.9" stroke="#d98388" stroke-width="4.2"/>
<line x1="184.5" y1="473.4" x2="187.7" y2="487.9" stroke="#eb9ea3" stroke-width="3.28"/>
<line x1="184.5" y1="473.4" x2="187.7" y2="487.9" stroke="#f9cfd0" stroke-width="1.26"/>
<line x1="187.7" y1="487.9" x2="190.8" y2="502.5" stroke="#4a9acb" stroke-width="4.2"/>
<line x1="187.7" y1="487.9" x2="190.8" y2="502.5" stroke="#62b4de" stroke-width="3.28"/>
<line x1="187.7" y1="487.9" x2="190.8" y2="502.5" stroke="#a9dcf5" stroke-width="1.26"/>
<line x1="46.3" y1="501.7" x2="50.2" y2="501.4" stroke="#4a9acb" stroke-width="4.2"/>
<line x1="46.3" y1="501.7" x2="50.2" y2="501.4" stroke="#62b4de" stroke-width="3.28"/>
<line x1="46.3" y1="501.7" x2="50.2" y2="501.4" stroke="#a9dcf5" stroke-width="1.26"/>
<line x1="50.2" y1="501.4" x2="54.2" y2="501.0" stroke="#d98388" stroke-width="4.2"/>
<line x1="50.2" y1="501.4" x2="54.2" y2="501.0" stroke="#eb9ea3" stroke-width="3.28"/>
<line x1="50.2" y1="501.4" x2="54.2" y2="501.0" stroke="#f9cfd0" stroke-width="1.26"/>
<line x1="54.2" y1="501.0" x2="68.3" y2="501.8" stroke="#d98388" stroke-width="4.2"/>
<line x1="54.2" y1="501.0" x2="68.3" y2="501.8" stroke="#eb9ea3" stroke-width="3.28"/>
<line x1="54.2" y1="501.0" x2="68.3" y2="501.8" stroke="#f9cfd0" stroke-width="1.26"/>
<line x1="68.3" y1="501.8" x2="82.5" y2="502.5" stroke="#4a9acb" stroke-width="4.2"/>
<line x1="68.3" y1="501.8" x2="82.5" y2="502.5" stroke="#62b4de" stroke-width="3.28"/>
<line x1="68.3" y1="501.8" x2="82.5" y2="502.5" stroke="#a9dcf5" stroke-width="1.26"/>
<line x1="82.5" y1="502.5" x2="98.3" y2="502.5" stroke="#4a9acb" stroke-width="4.2"/>
<line x1="82.5" y1="502.5" x2="98.3" y2="502.5" stroke="#62b4de" stroke-width="3.28"/>
<line x1="82.5" y1="502.5" x2="98.3" y2="502.5" stroke="#a9dcf5" stroke-width="1.26"/>
<line x1="98.3" y1="502.5" x2="114.1" y2="502.5" stroke="#d98388" stroke-width="4.2"/>
<line x1="98.3" y1="502.5" x2="114.1" y2="502.5" stroke="#eb9ea3" stroke-width="3.28"/>
<line x1="98.3" y1="502.5" x2="114.1" y2="502.5" stroke="#f9cfd0" stroke-width="1.26"/>
<line x1="160.6" y1="503.0" x2="175.7" y2="502.8" stroke="#d98388" stroke-width="4.2"/>
<line x1="160.6" y1="503.0" x2="175.7" y2="502.8" stroke="#eb9ea3" stroke-width="3.28"/>
<line x1="160.6" y1="503.0" x2="175.7" y2="502.8" stroke="#f9cfd0" stroke-width="1.26"/>
<line x1="175.7" y1="502.8" x2="190.8" y2="502.5" stroke="#4a9acb" stroke-width="4.2"/>
<line x1="175.7" y1="502.8" x2="190.8" y2="502.5" stroke="#62b4de" stroke-width="3.28"/>
<line x1="175.7" y1="502.8" x2="190.8" y2="502.5" stroke="#a9dcf5" stroke-width="1.26"/>
<line x1="46.3" y1="501.7" x2="43.6" y2="516.5" stroke="#4a9acb" stroke-width="4.2"/>
<line x1="46.3" y1="501.7" x2="43.6" y2="516.5" stroke="#62b4de" stroke-width="3.28"/>
<line x1="46.3" y1="501.7" x2="43.6" y2="516.5" stroke="#a9dcf5" stroke-width="1.26"/>
<line x1="43.6" y1="516.5" x2="41.0" y2="531.4" stroke="#d98388" stroke-width="4.2"/>
<line x1="43.6" y1="516.5" x2="41.0" y2="531.4" stroke="#eb9ea3" stroke-width="3.28"/>
<line x1="43.6" y1="516.5" x2="41.0" y2="531.4" stroke="#f9cfd0" stroke-width="1.26"/>
<line x1="41.0" y1="531.4" x2="44.0" y2="545.1" stroke="#d98388" stroke-width="4.2"/>
<line x1="41.0" y1="531.4" x2="44.0" y2="545.1" stroke="#eb9ea3" stroke-width="3.28"/>
<line x1="41.0" y1="531.4" x2="44.0" y2="545.1" stroke="#f9cfd0" stroke-width="1.26"/>
<line x1="44.0" y1="545.1" x2="47.1" y2="558.8" stroke="#4a9acb" stroke-width="4.2"/>
<line x1="44.0" y1="545.1" x2="47.1" y2="558.8" stroke="#62b4de" stroke-width="3.28"/>
<line x1="44.0" y1="545.1" x2="47.1" y2="558.8" stroke="#a9dcf5" stroke-width="1.26"/>
<line x1="82.5" y1="502.5" x2="83.8" y2="517.0" stroke="#4a9acb" stroke-width="4.2"/>
<line x1="82.5" y1="502.5" x2="83.8" y2="517.0" stroke="#62b4de" stroke-width="3.28"/>
<line x1="82.5" y1="502.5" x2="83.8" y2="517.0" stroke="#a9dcf5" stroke-width="1.26"/>
<line x1="83.8" y1="517.0" x2="85.2" y2="531.4" stroke="#d98388" stroke-width="4.2"/>
<line x1="83.8" y1="517.0" x2="85.2" y2="531.4" stroke="#eb9ea3" stroke-width="3.28"/>
<line x1="83.8" y1="517.0" x2="85.2" y2="531.4" stroke="#f9cfd0" stroke-width="1.26"/>
<line x1="85.2" y1="531.4" x2="83.8" y2="545.1" stroke="#d98388" stroke-width="4.2"/>
<line x1="85.2" y1="531.4" x2="83.8" y2="545.1" stroke="#eb9ea3" stroke-width="3.28"/>
<line x1="85.2" y1="531.4" x2="83.8" y2="545.1" stroke="#f9cfd0" stroke-width="1.26"/>
<line x1="83.8" y1="545.1" x2="82.5" y2="558.8" stroke="#4a9acb" stroke-width="4.2"/>
<line x1="83.8" y1="545.1" x2="82.5" y2="558.8" stroke="#62b4de" stroke-width="3.28"/>
<line x1="83.8" y1="545.1" x2="82.5" y2="558.8" stroke="#a9dcf5" stroke-width="1.26"/>
<line x1="114.1" y1="502.5" x2="118.7" y2="517.0" stroke="#d98388" stroke-width="4.2"/>
<line x1="114.1" y1="502.5" x2="118.7" y2="517.0" stroke="#eb9ea3" stroke-width="3.28"/>
<line x1="114.1" y1="502.5" x2="118.7" y2="517.0" stroke="#f9cfd0" stroke-width="1.26"/>
<line x1="118.7" y1="517.0" x2="123.3" y2="531.4" stroke="#6a4cc4" stroke-width="4.2"/>
<line x1="118.7" y1="517.0" x2="123.3" y2="531.4" stroke="#8566d8" stroke-width="3.28"/>
<line x1="118.7" y1="517.0" x2="123.3" y2="531.4" stroke="#b9a4f0" stroke-width="1.26"/>
<line x1="160.6" y1="503.0" x2="157.3" y2="517.2" stroke="#d98388" stroke-width="4.2"/>
<line x1="160.6" y1="503.0" x2="157.3" y2="517.2" stroke="#eb9ea3" stroke-width="3.28"/>
<line x1="160.6" y1="503.0" x2="157.3" y2="517.2" stroke="#f9cfd0" stroke-width="1.26"/>
<line x1="157.3" y1="517.2" x2="154.0" y2="531.4" stroke="#4a9acb" stroke-width="4.2"/>
<line x1="157.3" y1="517.2" x2="154.0" y2="531.4" stroke="#62b4de" stroke-width="3.28"/>
<line x1="157.3" y1="517.2" x2="154.0" y2="531.4" stroke="#a9dcf5" stroke-width="1.26"/>
<line x1="190.8" y1="502.5" x2="187.9" y2="517.0" stroke="#4a9acb" stroke-width="4.2"/>
<line x1="190.8" y1="502.5" x2="187.9" y2="517.0" stroke="#62b4de" stroke-width="3.28"/>
<line x1="190.8" y1="502.5" x2="187.9" y2="517.0" stroke="#a9dcf5" stroke-width="1.26"/>
<line x1="187.9" y1="517.0" x2="185.0" y2="531.4" stroke="#d98388" stroke-width="4.2"/>
<line x1="187.9" y1="517.0" x2="185.0" y2="531.4" stroke="#eb9ea3" stroke-width="3.28"/>
<line x1="187.9" y1="517.0" x2="185.0" y2="531.4" stroke="#f9cfd0" stroke-width="1.26"/>
<line x1="85.2" y1="531.4" x2="104.2" y2="531.4" stroke="#d98388" stroke-width="4.2"/>
<line x1="85.2" y1="531.4" x2="104.2" y2="531.4" stroke="#eb9ea3" stroke-width="3.28"/>
<line x1="85.2" y1="531.4" x2="104.2" y2="531.4" stroke="#f9cfd0" stroke-width="1.26"/>
<line x1="104.2" y1="531.4" x2="123.3" y2="531.4" stroke="#6a4cc4" stroke-width="4.2"/>
<line x1="104.2" y1="531.4" x2="123.3" y2="531.4" stroke="#8566d8" stroke-width="3.28"/>
<line x1="104.2" y1="531.4" x2="123.3" y2="531.4" stroke="#b9a4f0" stroke-width="1.26"/>
<line x1="123.3" y1="531.4" x2="138.7" y2="531.4" stroke="#6a4cc4" stroke-width="4.2"/>
<line x1="123.3" y1="531.4" x2="138.7" y2="531.4" stroke="#8566d8" stroke-width="3.28"/>
<line x1="123.3" y1="531.4" x2="138.7" y2="531.4" stroke="#b9a4f0" stroke-width="1.26"/>
<line x1="138.7" y1="531.4" x2="154.0" y2="531.4" stroke="#4a9acb" stroke-width="4.2"/>
<line x1="138.7" y1="531.4" x2="154.0" y2="531.4" stroke="#62b4de" stroke-width="3.28"/>
<line x1="138.7" y1="531.4" x2="154.0" y2="531.4" stroke="#a9dcf5" stroke-width="1.26"/>
<line x1="154.0" y1="531.4" x2="169.5" y2="531.4" stroke="#4a9acb" stroke-width="4.2"/>
<line x1="154.0" y1="531.4" x2="169.5" y2="531.4" stroke="#62b4de" stroke-width="3.28"/>
<line x1="154.0" y1="531.4" x2="169.5" y2="531.4" stroke="#a9dcf5" stroke-width="1.26"/>
<line x1="169.5" y1="531.4" x2="185.0" y2="531.4" stroke="#d98388" stroke-width="4.2"/>
<line x1="169.5" y1="531.4" x2="185.0" y2="531.4" stroke="#eb9ea3" stroke-width="3.28"/>
<line x1="169.5" y1="531.4" x2="185.0" y2="531.4" stroke="#f9cfd0" stroke-width="1.26"/>
<line x1="123.3" y1="531.4" x2="118.7" y2="545.8" stroke="#6a4cc4" stroke-width="4.2"/>
<line x1="123.3" y1="531.4" x2="118.7" y2="545.8" stroke="#8566d8" stroke-width="3.28"/>
<line x1="123.3" y1="531.4" x2="118.7" y2="545.8" stroke="#b9a4f0" stroke-width="1.26"/>
<line x1="118.7" y1="545.8" x2="114.1" y2="560.3" stroke="#d98388" stroke-width="4.2"/>
<line x1="118.7" y1="545.8" x2="114.1" y2="560.3" stroke="#eb9ea3" stroke-width="3.28"/>
<line x1="118.7" y1="545.8" x2="114.1" y2="560.3" stroke="#f9cfd0" stroke-width="1.26"/>
<line x1="47.1" y1="558.8" x2="50.7" y2="560.1" stroke="#4a9acb" stroke-width="4.2"/>
<line x1="47.1" y1="558.8" x2="50.7" y2="560.1" stroke="#62b4de" stroke-width="3.28"/>
<line x1="47.1" y1="558.8" x2="50.7" y2="560.1" stroke="#a9dcf5" stroke-width="1.26"/>
<line x1="50.7" y1="560.1" x2="54.2" y2="561.4" stroke="#d98388" stroke-width="4.2"/>
<line x1="50.7" y1="560.1" x2="54.2" y2="561.4" stroke="#eb9ea3" stroke-width="3.28"/>
<line x1="50.7" y1="560.1" x2="54.2" y2="561.4" stroke="#f9cfd0" stroke-width="1.26"/>
<line x1="54.2" y1="561.4" x2="68.3" y2="560.1" stroke="#d98388" stroke-width="4.2"/>
<line x1="54.2" y1="561.4" x2="68.3" y2="560.1" stroke="#eb9ea3" stroke-width="3.28"/>
<line x1="54.2" y1="561.4" x2="68.3" y2="560.1" stroke="#f9cfd0" stroke-width="1.26"/>
<line x1="68.3" y1="560.1" x2="82.5" y2="558.8" stroke="#4a9acb" stroke-width="4.2"/>
<line x1="68.3" y1="560.1" x2="82.5" y2="558.8" stroke="#62b4de" stroke-width="3.28"/>
<line x1="68.3" y1="560.1" x2="82.5" y2="558.8" stroke="#a9dcf5" stroke-width="1.26"/>
<line x1="82.5" y1="558.8" x2="98.3" y2="559.5" stroke="#4a9acb" stroke-width="4.2"/>
<line x1="82.5" y1="558.8" x2="98.3" y2="559.5" stroke="#62b4de" stroke-width="3.28"/>
<line x1="82.5" y1="558.8" x2="98.3" y2="559.5" stroke="#a9dcf5" stroke-width="1.26"/>
<line x1="98.3" y1="559.5" x2="114.1" y2="560.3" stroke="#d98388" stroke-width="4.2"/>
<line x1="98.3" y1="559.5" x2="114.1" y2="560.3" stroke="#eb9ea3" stroke-width="3.28"/>
<line x1="98.3" y1="559.5" x2="114.1" y2="560.3" stroke="#f9cfd0" stroke-width="1.26"/>
<circle cx="126.0" cy="476.6" r="5.2" fill="url(#gO)"/>
<circle cx="147.0" cy="476.4" r="5.2" fill="url(#gO)"/>
<circle cx="116.5" cy="532.0" r="7.7" fill="url(#gTi)"/>
<circle cx="119.3" cy="473.4" r="8.1" fill="url(#gTi)"/>
<circle cx="154.0" cy="473.4" r="8.1" fill="url(#gTi)"/>
<circle cx="46.3" cy="501.7" r="8.1" fill="url(#gTi)"/>
<circle cx="82.5" cy="502.5" r="8.1" fill="url(#gTi)"/>
<circle cx="190.8" cy="502.5" r="8.1" fill="url(#gTi)"/>
<circle cx="154.0" cy="531.4" r="8.1" fill="url(#gTi)"/>
<circle cx="47.1" cy="558.8" r="8.1" fill="url(#gTi)"/>
<circle cx="82.5" cy="558.8" r="8.1" fill="url(#gTi)"/>
<circle cx="123.3" cy="531.4" r="7.8" fill="url(#gCu)"/>
<circle cx="89.1" cy="473.4" r="5.8" fill="url(#gO)"/>
<circle cx="184.5" cy="473.4" r="5.8" fill="url(#gO)"/>
<circle cx="54.2" cy="501.0" r="5.8" fill="url(#gO)"/>
<circle cx="114.1" cy="502.5" r="5.8" fill="url(#gO)"/>
<circle cx="160.6" cy="503.0" r="5.8" fill="url(#gO)"/>
<circle cx="41.0" cy="531.4" r="5.8" fill="url(#gO)"/>
<circle cx="85.2" cy="531.4" r="5.8" fill="url(#gO)"/>
<circle cx="185.0" cy="531.4" r="5.8" fill="url(#gO)"/>
<circle cx="54.2" cy="561.4" r="5.8" fill="url(#gO)"/>
<circle cx="114.1" cy="560.3" r="5.8" fill="url(#gO)"/>
<line x1="124.2" y1="349.8" x2="153.5" y2="377.8" stroke="#9e0b10" stroke-width="4.4"/>
<ellipse cx="136.4" cy="363.8" rx="42.3" ry="25.3" fill="none" stroke="#000" stroke-width="1.5" stroke-dasharray="7.6,3.5"/>
<line x1="123.3" y1="350" x2="123.3" y2="529.5" stroke="#000" stroke-width="1.6" stroke-dasharray="5.4,2.1"/>
<line x1="153.7" y1="377.5" x2="153.7" y2="530" stroke="#000" stroke-width="1.6" stroke-dasharray="5.4,2.1"/>
<circle cx="123.1" cy="531" r="1.3" fill="#fff" stroke="#000" stroke-width="1"/>
<circle cx="160.9" cy="571.5" r="8.0" fill="url(#gCu)" stroke="#5538b0" stroke-width="0.7"/>
<text x="172.8" y="577.9" font-size="18.7" fill="#111">Cu</text>
<circle cx="219.6" cy="571.5" r="7.1" fill="url(#gTi)" stroke="#3f86bb" stroke-width="0.7"/>
<text x="232.8" y="577.9" font-size="18.7" fill="#111">Ti</text>
<circle cx="269.1" cy="571.5" r="4.7" fill="url(#gO)" stroke="#c06c74" stroke-width="0.7"/>
<text x="278.3" y="577.9" font-size="18.7" fill="#111">Lattice O</text>
<path d="M396.0,425.4 L411.3,424.5 L435.4,420.1 L444.1,411.4 L455.1,393.8 L466.0,367.6 L474.8,352.2 L481.4,350.0 L490.1,354.4 L501.1,367.6 L512.0,387.3 L523.0,409.2 L530.4,416.6 L538.3,402.6 L547.1,380.7 L555.8,368.4 L564.6,368.4 L577.7,374.1 L588.7,387.3 L599.6,409.2 L608.4,422.3 L617.2,428.9 L625.9,428.0 L634.7,425.8 L643.4,427.6 L654.4,430.2 L667.5,431.1 L676.3,430.2 L676.3,432.4 L396.0,432.4 Z" fill="#d58486" stroke="none"/>
<line x1="396" y1="432.4" x2="676.3" y2="432.4" stroke="#000" stroke-width="1.5"/>
<path d="M396.0,425.4 L411.3,424.5 L435.4,420.1 L444.1,411.4 L455.1,393.8 L466.0,367.6 L474.8,352.2 L481.4,350.0 L490.1,354.4 L501.1,367.6 L512.0,387.3 L523.0,409.2 L530.4,416.6 L538.3,402.6 L547.1,380.7 L555.8,368.4 L564.6,368.4 L577.7,374.1 L588.7,387.3 L599.6,409.2 L608.4,422.3 L617.2,428.9 L625.9,428.0 L634.7,425.8 L643.4,427.6 L654.4,430.2 L667.5,431.1 L676.3,430.2" fill="none" stroke="#b2181f" stroke-width="1.4" stroke-linejoin="round"/>
<path d="M394.6,542.1 L411.3,542.6 L433.2,542.1 L438.4,541.3 L442.4,539.5 L450.7,526.4 L461.7,500.1 L472.6,473.8 L479.2,462.9 L487.9,459.8 L496.7,462.9 L505.5,473.8 L516.4,500.1 L526.0,522.0 L535.2,529.4 L544.9,522.0 L553.6,495.7 L562.4,482.6 L571.2,478.2 L579.9,481.7 L588.7,490.4 L599.6,506.7 L610.6,522.0 L621.5,534.2 L629.4,539.5 L639.1,540.4 L647.8,536.4 L656.6,536.4 L667.5,539.5 L674.1,542.1 L674.1,542.6 L394.6,542.6 Z" fill="#d58486" stroke="none"/>
<line x1="394" y1="542.6" x2="674.8" y2="542.6" stroke="#000" stroke-width="1.5"/>
<path d="M394.6,542.1 L411.3,542.6 L433.2,542.1 L438.4,541.3 L442.4,539.5 L450.7,526.4 L461.7,500.1 L472.6,473.8 L479.2,462.9 L487.9,459.8 L496.7,462.9 L505.5,473.8 L516.4,500.1 L526.0,522.0 L535.2,529.4 L544.9,522.0 L553.6,495.7 L562.4,482.6 L571.2,478.2 L579.9,481.7 L588.7,490.4 L599.6,506.7 L610.6,522.0 L621.5,534.2 L629.4,539.5 L639.1,540.4 L647.8,536.4 L656.6,536.4 L667.5,539.5 L674.1,542.1" fill="none" stroke="#b2181f" stroke-width="1.4" stroke-linejoin="round"/>
<line x1="394.6" y1="542.6" x2="394.6" y2="546.5" stroke="#000" stroke-width="1.3"/>
<text x="394.6" y="563.6" font-size="18.1" fill="#111" text-anchor="middle">0</text>
<line x1="422.6" y1="542.6" x2="422.6" y2="544.9" stroke="#000" stroke-width="1.3"/>
<line x1="450.5" y1="542.6" x2="450.5" y2="546.5" stroke="#000" stroke-width="1.3"/>
<text x="450.5" y="563.6" font-size="18.1" fill="#111" text-anchor="middle">2</text>
<line x1="478.5" y1="542.6" x2="478.5" y2="544.9" stroke="#000" stroke-width="1.3"/>
<line x1="506.4" y1="542.6" x2="506.4" y2="546.5" stroke="#000" stroke-width="1.3"/>
<text x="506.4" y="563.6" font-size="18.1" fill="#111" text-anchor="middle">4</text>
<line x1="534.4" y1="542.6" x2="534.4" y2="544.9" stroke="#000" stroke-width="1.3"/>
<line x1="562.3" y1="542.6" x2="562.3" y2="546.5" stroke="#000" stroke-width="1.3"/>
<text x="562.3" y="563.6" font-size="18.1" fill="#111" text-anchor="middle">6</text>
<line x1="590.2" y1="542.6" x2="590.2" y2="544.9" stroke="#000" stroke-width="1.3"/>
<line x1="618.2" y1="542.6" x2="618.2" y2="546.5" stroke="#000" stroke-width="1.3"/>
<text x="618.2" y="563.6" font-size="18.1" fill="#111" text-anchor="middle">8</text>
<line x1="646.1" y1="542.6" x2="646.1" y2="544.9" stroke="#000" stroke-width="1.3"/>
<line x1="674.1" y1="542.6" x2="674.1" y2="546.5" stroke="#000" stroke-width="1.3"/>
<text x="674.1" y="563.6" font-size="18.1" fill="#111" text-anchor="middle">10</text>
<text x="529.3" y="594.8" font-size="19.8" fill="#111" text-anchor="middle">Distance (Å)</text>
<line x1="487.1" y1="345.5" x2="487.1" y2="385" stroke="#000" stroke-width="1.5" stroke-dasharray="9,3.5"/>
<line x1="565.9" y1="344.8" x2="565.9" y2="429" stroke="#000" stroke-width="1.5" stroke-dasharray="9,3.5"/>
<line x1="500.6" y1="360.1" x2="552.4" y2="360.1" stroke="#000" stroke-width="2.1"/>
<path d="M487.6,360.1 L506.1,352.90000000000003 L501.6,360.1 L506.1,367.3 Z" fill="#000"/>
<path d="M565.4,360.1 L546.9,352.90000000000003 L551.4,360.1 L546.9,367.3 Z" fill="#000"/>
<line x1="487.1" y1="443" x2="487.1" y2="482.6" stroke="#000" stroke-width="1.5" stroke-dasharray="9,3.5"/>
<line x1="573.8" y1="443" x2="573.8" y2="522" stroke="#000" stroke-width="1.5" stroke-dasharray="9,3.5"/>
<line x1="500.6" y1="469.4" x2="560.3" y2="469.4" stroke="#000" stroke-width="2.1"/>
<path d="M487.6,469.4 L506.1,462.2 L501.6,469.4 L506.1,476.59999999999997 Z" fill="#000"/>
<path d="M573.3,469.4 L554.8,462.2 L559.3,469.4 L554.8,476.59999999999997 Z" fill="#000"/>
<text x="488.5" y="347.9" font-size="24.5" fill="#000">2.83 Å</text>
<text x="495.2" y="460.7" font-size="24.5" fill="#000">2.97 Å</text>
<text x="403.8" y="357.5" font-size="28.5" fill="#a8121a">1</text>
<text x="404.8" y="478.2" font-size="28.5" fill="#a8121a">2</text>
<text x="443" y="351.4" font-size="22.5" fill="#a898f5">Cu</text>
<text x="441.7" y="468.5" font-size="22.5" fill="#a898f5">Cu</text>
<text x="589.6" y="374.1" font-size="22.5" fill="#1f70b2">Ti</text>
<text x="589.6" y="481.7" font-size="22.5" fill="#1f70b2">Ti</text>
<g style="font-kerning:none">
<clipPath id="clipD"><rect x="45.5" y="625" width="279.1" height="231.79999999999995"/></clipPath>
<g clip-path="url(#clipD)" fill="none" stroke-width="1.5" stroke-linejoin="round">
<path d="M45.5,839.2 C50.1,839.0 66.1,838.8 73.0,838.1 C79.9,837.4 83.1,836.4 86.8,835.1 C90.4,833.8 92.5,832.8 95.0,830.4 C97.5,828.0 99.8,825.1 101.9,820.8 C103.9,816.4 105.8,809.8 107.4,804.3 C109.0,798.8 110.1,792.4 111.5,787.8 C112.9,783.2 114.3,779.4 115.6,776.8 C117.0,774.2 118.2,773.0 119.8,772.1 C121.4,771.2 123.4,771.0 125.3,771.3 C127.1,771.5 128.9,772.9 130.8,773.5 C132.6,774.1 134.2,775.0 136.3,774.8 C138.3,774.7 140.8,773.9 143.1,772.6 C145.4,771.4 147.5,769.4 150.0,767.1 C152.5,764.8 155.5,761.9 158.3,758.9 C161.0,755.9 163.3,753.2 166.5,749.3 C169.7,745.4 173.7,741.1 177.5,735.5 C181.3,729.9 185.8,722.0 189.3,715.8 C192.9,709.6 196.0,702.4 198.7,698.3 C201.4,694.1 203.6,692.3 205.7,690.8 C207.8,689.2 209.6,689.0 211.5,688.9 C213.5,688.8 214.8,688.7 217.4,690.1 C219.9,691.4 223.6,695.1 226.7,697.1 C229.8,699.1 232.9,701.1 236.1,702.2 C239.2,703.4 242.3,704.2 245.4,704.1 C248.5,704.0 251.6,703.5 254.7,701.8 C257.9,700.0 261.0,696.0 264.1,693.6 C267.2,691.2 270.7,688.4 273.4,687.3 C276.2,686.1 277.7,685.9 280.4,686.6 C283.2,687.2 286.3,689.3 289.8,691.2 C293.3,693.2 297.6,696.3 301.5,698.3 C305.4,700.2 309.2,701.5 313.1,702.9 C317.1,704.4 323.3,706.2 325.3,706.9" stroke="#f2c055"/>
<path d="M45.5,839.2 C51.5,838.9 72.5,838.3 81.3,837.3 C90.0,836.3 93.2,835.2 97.8,833.1 C102.3,831.1 105.8,828.3 108.8,824.9 C111.7,821.5 113.6,817.8 115.6,812.5 C117.7,807.2 119.5,800.6 121.1,793.3 C122.7,785.9 123.9,775.8 125.3,768.5 C126.6,761.2 128.1,753.3 129.4,749.3 C130.7,745.3 131.8,745.0 133.0,744.6 C134.1,744.1 135.0,744.8 136.3,746.5 C137.5,748.2 138.8,752.0 140.4,754.8 C142.0,757.5 144.3,761.4 145.9,763.0 C147.5,764.6 148.4,764.6 150.0,764.4 C151.6,764.2 153.4,763.5 155.5,761.6 C157.6,759.8 160.1,756.1 162.4,753.4 C164.7,750.6 166.7,748.3 169.3,745.1 C171.8,741.9 174.2,739.4 177.5,734.1 C180.9,728.9 185.8,720.0 189.3,713.4 C192.9,706.9 195.6,699.8 198.7,694.7 C201.8,689.7 204.9,686.2 208.0,683.1 C211.1,680.0 214.3,677.8 217.4,676.1 C220.5,674.3 223.8,673.4 226.7,672.6 C229.6,671.7 232.6,670.8 234.9,670.9 C237.2,671.0 238.2,671.4 240.7,673.3 C243.3,675.1 247.0,679.1 250.1,681.9 C253.2,684.7 256.3,687.9 259.4,690.1 C262.5,692.2 265.6,693.7 268.8,694.7 C271.9,695.8 275.0,696.2 278.1,696.6 C281.2,697.0 283.6,697.4 287.5,697.1 C291.3,696.8 297.2,695.5 301.5,694.7 C305.7,694.0 309.2,693.3 313.1,692.4 C317.1,691.6 323.3,690.1 325.3,689.6" stroke="#f58a34"/>
<path d="M45.5,840.0 C51.5,839.7 71.6,839.0 81.3,837.8 C90.9,836.7 97.8,834.8 103.3,833.1 C108.8,831.5 111.0,829.9 114.3,827.6 C117.5,825.4 119.8,822.8 122.5,819.4 C125.3,816.0 128.2,811.4 130.8,807.0 C133.3,802.7 135.3,797.9 137.6,793.3 C139.9,788.7 142.4,783.4 144.5,779.5 C146.6,775.6 147.9,772.6 150.0,769.9 C152.1,767.1 154.6,765.3 156.9,763.0 C159.2,760.7 161.5,759.1 163.8,756.1 C166.1,753.2 168.3,749.5 170.6,745.1 C172.9,740.8 174.8,735.3 177.5,730.0 C180.2,724.7 184.3,719.3 187.0,713.4 C189.8,707.6 191.7,700.8 194.0,694.7 C196.4,688.7 198.7,682.5 201.0,677.2 C203.4,672.0 205.7,666.9 208.0,663.2 C210.4,659.5 212.7,656.9 215.0,655.0 C217.4,653.2 219.7,652.4 222.0,652.2 C224.4,652.0 226.3,653.0 229.1,653.9 C231.8,654.7 234.9,656.2 238.4,657.4 C241.9,658.5 246.6,659.5 250.1,660.9 C253.6,662.2 256.7,663.4 259.4,665.6 C262.1,667.7 264.1,671.0 266.4,673.7 C268.8,676.5 270.7,679.4 273.4,681.9 C276.2,684.4 279.3,686.8 282.8,688.9 C286.3,691.1 290.6,693.1 294.5,694.7 C298.4,696.4 302.6,697.9 306.1,699.0 C309.6,700.0 312.3,700.5 315.5,701.1 C318.7,701.6 323.7,702.0 325.3,702.2" stroke="#2a7fc0"/>
<path d="M45.5,838.9 C51.5,838.6 72.1,838.2 81.3,837.3 C90.4,836.3 95.5,835.0 100.5,833.1 C105.5,831.3 108.3,829.0 111.5,826.3 C114.7,823.5 117.0,820.5 119.8,816.6 C122.5,812.7 125.3,807.7 128.0,802.9 C130.8,798.1 133.5,792.4 136.3,787.8 C139.0,783.2 142.0,778.8 144.5,775.4 C147.0,772.0 149.1,769.7 151.4,767.1 C153.7,764.6 155.7,763.2 158.3,760.3 C160.8,757.3 163.8,754.1 166.5,749.3 C169.3,744.4 171.0,738.9 174.8,731.4 C178.6,723.9 185.4,712.1 189.3,704.1 C193.3,696.0 196.0,688.9 198.7,683.1 C201.4,677.2 203.4,673.1 205.7,669.1 C208.0,665.0 210.4,661.2 212.7,658.5 C215.0,655.9 217.6,654.2 219.7,653.2 C221.9,652.1 223.2,651.9 225.6,652.2 C227.9,652.5 230.8,654.0 233.7,655.0 C236.6,656.1 240.0,657.8 243.1,658.5 C246.2,659.2 249.7,658.7 252.4,659.2 C255.1,659.8 256.7,660.2 259.4,662.0 C262.1,663.9 265.6,667.5 268.8,670.2 C271.9,672.9 274.6,675.9 278.1,678.4 C281.6,680.9 285.9,683.5 289.8,685.4 C293.7,687.4 297.6,688.8 301.5,690.1 C305.4,691.4 309.2,692.5 313.1,693.1 C317.1,693.7 323.3,693.5 325.3,693.6" stroke="#a8121a"/>
<path d="M45.5,840.0 C51.5,839.7 71.6,838.7 81.3,837.8 C90.9,836.9 97.3,835.8 103.3,834.5 C109.2,833.3 112.9,832.5 117.0,830.4 C121.1,828.3 124.8,825.6 128.0,822.1 C131.2,818.7 133.7,815.0 136.3,809.8 C138.8,804.5 141.1,796.5 143.1,790.5 C145.2,784.6 147.0,777.9 148.6,774.0 C150.2,770.1 151.2,768.7 152.8,767.1 C154.4,765.6 156.2,765.3 158.3,764.9 C160.3,764.6 163.1,765.5 165.1,764.9 C167.2,764.4 168.8,763.8 170.6,761.6 C172.5,759.5 174.1,756.4 176.1,752.0 C178.2,747.7 181.2,740.4 183.0,735.5 C184.8,730.6 185.2,728.4 187.0,722.8 C188.8,717.2 191.7,707.6 194.0,701.8 C196.4,695.9 198.7,691.4 201.0,687.7 C203.4,684.0 205.3,682.5 208.0,679.6 C210.8,676.6 214.3,673.5 217.4,670.2 C220.5,666.9 224.0,662.8 226.7,659.7 C229.4,656.6 231.4,653.2 233.7,651.5 C236.1,649.9 238.4,649.5 240.7,649.7 C243.1,649.9 245.0,651.0 247.7,652.7 C250.5,654.4 254.0,657.0 257.1,659.7 C260.2,662.4 263.3,665.9 266.4,669.1 C269.5,672.2 272.7,675.7 275.8,678.4 C278.9,681.1 281.6,683.3 285.1,685.4 C288.6,687.5 292.9,689.7 296.8,691.2 C300.7,692.8 305.0,694.1 308.5,694.7 C312.0,695.4 315.0,695.1 317.8,695.2 C320.6,695.3 324.0,695.2 325.3,695.2" stroke="#111"/>
</g>
<rect x="45.5" y="625" width="279.1" height="231.79999999999995" fill="none" stroke="#000" stroke-width="1.3"/>
<line x1="45.5" y1="856.8" x2="45.5" y2="859.0999999999999" stroke="#000" stroke-width="1.3"/>
<line x1="81.3" y1="856.8" x2="81.3" y2="861.4" stroke="#000" stroke-width="1.3"/>
<text x="81.3" y="880.3" font-size="17.5" fill="#111" text-anchor="middle">8975</text>
<line x1="117.0" y1="856.8" x2="117.0" y2="859.0999999999999" stroke="#000" stroke-width="1.3"/>
<line x1="152.8" y1="856.8" x2="152.8" y2="861.4" stroke="#000" stroke-width="1.3"/>
<text x="152.8" y="880.3" font-size="17.5" fill="#111" text-anchor="middle">8985</text>
<line x1="188.6" y1="856.8" x2="188.6" y2="859.0999999999999" stroke="#000" stroke-width="1.3"/>
<line x1="224.3" y1="856.8" x2="224.3" y2="861.4" stroke="#000" stroke-width="1.3"/>
<text x="224.3" y="880.3" font-size="17.5" fill="#111" text-anchor="middle">8995</text>
<line x1="260.1" y1="856.8" x2="260.1" y2="859.0999999999999" stroke="#000" stroke-width="1.3"/>
<line x1="295.8" y1="856.8" x2="295.8" y2="861.4" stroke="#000" stroke-width="1.3"/>
<text x="295.8" y="880.3" font-size="17.5" fill="#111" text-anchor="middle">9005</text>
<text x="187.3" y="904.0" font-size="20.05" fill="#111" text-anchor="middle">Photon energy (eV)</text>
<text transform="translate(32.8,743.4) rotate(-90)" font-size="20.05" fill="#111" text-anchor="middle">Normalized XANES (a.u.)</text>
<line x1="100.5" y1="737.7" x2="154" y2="737.7" stroke="#000" stroke-width="1.6"/>
<polygon points="162.3,737.7 152.8,733.7 152.8,741.7" fill="#000"/>
<line x1="195.9" y1="740.1" x2="232.5" y2="740.1" stroke="#111" stroke-width="1.5"/>
<text x="237.8" y="745.8" font-size="18.6" fill="#111">CuO</text>
<line x1="195.9" y1="763.8" x2="232.5" y2="763.8" stroke="#2a7fc0" stroke-width="1.5"/>
<text x="237.8" y="768.6" font-size="18.6" fill="#1f5c86">Cu–O<tspan font-size="13.2" dy="4.6">4</tspan><tspan dy="-4.6">(Ti)</tspan></text>
<line x1="195.9" y1="791.2" x2="232.5" y2="791.2" stroke="#a8121a" stroke-width="1.5"/>
<text x="237.8" y="796.6" font-size="18.6" fill="#a8121a">Cu–Ti<tspan font-size="13.2" dy="4.6">1</tspan><tspan dy="-4.6">O</tspan><tspan font-size="13.2" dy="4.6">3</tspan></text>
<line x1="195.9" y1="817.9" x2="232.5" y2="817.9" stroke="#f58a34" stroke-width="1.5"/>
<text x="237.8" y="823.4" font-size="18.6" fill="#f08a3c">Cu<tspan font-size="13.2" dy="4.6">2</tspan><tspan dy="-4.6">O</tspan></text>
<line x1="195.9" y1="845.2" x2="232.5" y2="845.2" stroke="#f2c055" stroke-width="1.5"/>
<text x="237.8" y="849.6" font-size="18.6" fill="#ecbe5a">Cu foil</text>
<clipPath id="clipE"><rect x="388.2" y="624.8" width="279.40000000000003" height="231.5"/></clipPath>
<g clip-path="url(#clipE)" fill="none" stroke-width="1.6" stroke-linejoin="round">
<path d="M388.2,828.1 C392.0,828.0 403.1,827.9 411.4,827.8 C419.7,827.7 429.0,827.3 437.8,827.3 C446.6,827.3 457.6,827.9 464.2,827.8 C470.8,827.7 474.1,827.0 477.4,826.5 C480.7,825.9 482.0,826.0 484.0,824.6 C486.0,823.2 487.5,820.4 489.3,818.0 C491.1,815.6 492.8,812.5 494.6,810.1 C496.3,807.7 498.3,805.0 499.9,803.5 C501.4,802.0 502.6,801.6 503.8,801.1 C505.0,800.6 505.9,800.4 507.0,800.6 C508.1,800.8 509.0,800.8 510.4,802.2 C511.9,803.5 513.9,806.4 515.7,808.8 C517.5,811.2 519.2,814.4 521.0,816.7 C522.7,819.0 524.3,821.5 526.3,822.8 C528.2,824.1 530.0,824.1 532.9,824.6 C535.8,825.1 540.4,826.0 543.5,825.9 C546.6,825.9 548.8,824.8 551.4,824.1 C554.0,823.4 556.7,822.2 559.3,822.0 C562.0,821.8 564.6,822.4 567.2,822.8 C569.9,823.1 572.1,824.4 575.2,824.1 C578.2,823.8 582.4,822.1 585.7,821.2 C589.0,820.3 591.9,819.1 595.0,818.8 C598.0,818.5 600.9,819.0 604.2,819.3 C607.5,819.6 611.2,820.4 614.8,820.7 C618.3,821.0 621.8,821.0 625.3,821.2 C628.9,821.4 632.4,821.5 635.9,822.0 C639.4,822.4 642.9,823.2 646.5,823.8 C650.0,824.5 653.5,825.3 657.0,825.9 C660.5,826.6 665.8,827.5 667.6,827.8" stroke="#f2c055"/>
<path d="M388.2,792.9 C389.2,793.4 392.1,795.6 394.2,795.6 C396.4,795.6 398.6,793.1 400.8,792.9 C403.0,792.8 405.2,794.6 407.4,794.8 C409.6,795.0 411.6,794.7 414.0,794.3 C416.5,793.8 419.3,792.1 422.0,792.1 C424.6,792.2 427.2,795.0 429.9,794.8 C432.5,794.6 435.2,791.4 437.8,790.8 C440.4,790.2 443.1,791.8 445.7,791.1 C448.4,790.3 451.0,787.6 453.6,786.3 C456.3,785.1 459.4,785.5 461.6,783.7 C463.8,781.9 465.2,778.6 466.8,775.8 C468.5,772.9 470.2,768.4 471.6,766.5 C473.0,764.6 474.0,764.2 475.3,764.4 C476.6,764.6 478.1,765.7 479.5,767.9 C481.0,770.0 482.4,774.1 484.0,777.1 C485.6,780.1 487.5,784.5 489.3,785.8 C491.1,787.1 492.8,784.6 494.6,785.0 C496.3,785.5 498.1,786.9 499.9,788.4 C501.6,790.0 503.4,793.8 505.1,794.3 C506.9,794.7 508.7,791.6 510.4,791.1 C512.2,790.6 513.9,792.1 515.7,791.1 C517.5,790.1 519.2,787.3 521.0,785.0 C522.7,782.7 524.9,778.6 526.3,777.1 C527.6,775.6 527.9,776.2 529.0,775.8 C530.0,775.3 531.1,774.4 532.4,774.5 C533.7,774.5 535.0,775.5 536.9,776.3 C538.7,777.1 541.1,778.0 543.5,779.2 C545.9,780.4 548.8,782.2 551.4,783.7 C554.0,785.2 556.7,787.3 559.3,788.4 C562.0,789.5 564.2,789.8 567.2,790.3 C570.3,790.8 574.7,791.0 577.8,791.6 C580.9,792.2 583.3,793.2 585.7,793.7 C588.1,794.3 590.1,794.9 592.3,794.8 C594.5,794.7 596.1,793.5 598.9,792.9 C601.8,792.4 606.0,791.6 609.5,791.6 C613.0,791.6 616.5,792.4 620.0,792.9 C623.6,793.5 627.5,794.7 630.6,794.8 C633.7,794.9 636.1,793.8 638.5,793.7 C641.0,793.6 643.2,793.9 645.1,794.3 C647.1,794.6 648.4,795.7 650.4,795.6 C652.4,795.5 654.8,794.2 657.0,793.7 C659.2,793.3 661.9,792.9 663.6,792.9 C665.4,792.9 666.9,793.6 667.6,793.7" stroke="#f58a34"/>
<path d="M388.2,758.1 C389.4,758.3 392.6,759.4 395.6,759.4 C398.6,759.4 403.0,758.2 406.1,758.1 C409.2,758.0 411.4,758.8 414.0,758.6 C416.7,758.4 419.3,756.7 422.0,756.8 C424.6,756.9 427.5,759.5 429.9,759.1 C432.3,758.8 434.5,755.5 436.5,754.7 C438.5,753.8 440.0,753.8 441.8,754.1 C443.5,754.5 445.3,757.6 447.0,756.8 C448.8,756.0 450.6,751.4 452.3,749.4 C454.1,747.3 455.8,745.5 457.6,744.6 C459.4,743.7 461.1,745.1 462.9,744.1 C464.6,743.1 466.4,741.5 468.2,738.8 C469.9,736.2 471.9,730.7 473.4,728.3 C475.0,725.8 476.2,724.8 477.4,724.3 C478.6,723.8 479.3,723.5 480.6,725.1 C481.8,726.6 483.3,730.1 484.8,733.5 C486.3,736.9 487.9,742.2 489.3,745.4 C490.7,748.6 491.9,751.2 493.3,752.5 C494.6,753.9 495.9,753.4 497.2,753.3 C498.5,753.2 499.5,751.5 501.2,752.0 C502.8,752.5 505.2,756.6 507.0,756.5 C508.7,756.4 510.1,752.9 511.7,751.5 C513.4,750.1 515.5,748.7 517.0,748.1 C518.6,747.4 519.4,747.3 521.0,747.5 C522.5,747.7 524.5,748.3 526.3,749.4 C528.0,750.4 529.4,752.4 531.6,753.9 C533.8,755.3 537.1,757.4 539.5,758.1 C541.9,758.7 543.9,758.7 546.1,757.8 C548.3,756.9 550.7,753.9 552.7,752.5 C554.7,751.1 556.5,750.0 558.0,749.4 C559.5,748.7 560.4,748.3 562.0,748.6 C563.5,748.9 565.3,750.1 567.2,751.2 C569.2,752.3 571.4,754.4 573.8,755.2 C576.3,756.0 579.1,755.5 581.8,756.0 C584.4,756.5 587.3,757.6 589.7,758.1 C592.1,758.5 594.3,759.2 596.3,758.6 C598.3,758.0 599.8,756.1 601.6,754.7 C603.3,753.2 605.1,751.1 606.8,750.2 C608.6,749.2 610.4,748.8 612.1,748.8 C613.9,748.9 615.4,749.5 617.4,750.7 C619.4,751.9 621.8,754.7 624.0,756.0 C626.2,757.3 628.2,758.4 630.6,758.6 C633.0,758.8 635.9,758.0 638.5,757.3 C641.2,756.6 643.8,755.0 646.5,754.7 C649.1,754.3 651.7,755.0 654.4,755.4 C657.0,755.9 660.1,757.1 662.3,757.3 C664.5,757.5 666.7,756.9 667.6,756.8" stroke="#a8121a"/>
<path d="M388.2,726.4 C390.3,726.3 396.5,725.7 400.8,725.6 C405.2,725.5 410.1,725.8 414.0,725.6 C418.0,725.4 420.6,724.6 424.6,724.3 C428.6,724.0 433.8,724.4 437.8,723.8 C441.8,723.1 445.5,720.7 448.4,720.3 C451.2,720.0 452.8,720.8 455.0,721.7 C457.2,722.5 459.8,726.3 461.6,725.6 C463.3,725.0 464.2,721.2 465.5,717.7 C466.8,714.2 468.2,708.1 469.5,704.5 C470.8,700.9 472.2,697.9 473.4,696.0 C474.7,694.2 475.7,693.4 476.9,693.4 C478.1,693.4 479.3,694.0 480.6,696.0 C481.9,698.1 483.5,702.0 484.8,705.8 C486.1,709.6 487.4,715.6 488.5,719.0 C489.6,722.4 490.2,725.6 491.4,726.1 C492.6,726.7 494.3,723.3 495.9,722.4 C497.5,721.6 499.0,720.9 501.2,720.9 C503.4,720.9 506.5,722.3 509.1,722.4 C511.7,722.6 514.8,722.4 517.0,721.7 C519.2,720.9 520.8,719.0 522.3,718.2 C523.8,717.5 524.7,716.8 526.3,717.2 C527.8,717.5 529.6,719.1 531.6,720.3 C533.6,721.5 536.2,723.5 538.2,724.3 C540.2,725.0 541.5,725.5 543.5,724.8 C545.5,724.2 548.1,722.0 550.1,720.3 C552.1,718.7 553.6,716.2 555.4,715.0 C557.1,713.9 558.9,713.2 560.6,713.2 C562.4,713.2 563.9,713.9 565.9,715.0 C567.9,716.1 570.1,718.5 572.5,719.8 C574.9,721.1 577.4,722.1 580.4,723.0 C583.5,723.9 587.0,724.6 591.0,725.1 C595.0,725.6 599.8,725.9 604.2,726.1 C608.6,726.4 613.9,726.8 617.4,726.4 C620.9,726.0 622.7,724.9 625.3,723.8 C628.0,722.7 630.6,720.7 633.3,719.8 C635.9,718.9 638.5,718.6 641.2,718.5 C643.8,718.3 646.5,718.8 649.1,719.0 C651.7,719.2 653.9,719.4 657.0,719.8 C660.1,720.2 665.8,721.3 667.6,721.7" stroke="#2a7fc0"/>
<path d="M388.2,690.8 C390.3,691.0 396.1,691.8 400.8,692.1 C405.6,692.4 411.8,692.6 416.7,692.6 C421.5,692.6 426.4,692.7 429.9,692.1 C433.4,691.5 435.2,689.7 437.8,689.2 C440.4,688.6 443.1,689.4 445.7,688.6 C448.4,687.9 451.0,685.7 453.6,684.7 C456.3,683.7 459.4,684.2 461.6,682.8 C463.8,681.5 465.1,680.0 466.8,676.8 C468.6,673.6 470.6,667.0 472.1,663.6 C473.7,660.2 474.9,658.0 476.1,656.4 C477.3,654.9 478.3,654.3 479.5,654.3 C480.7,654.3 481.8,654.7 483.2,656.4 C484.6,658.2 486.3,661.6 488.0,664.9 C489.6,668.1 491.5,673.1 493.3,676.0 C495.0,678.8 496.8,680.8 498.5,682.0 C500.3,683.3 502.1,682.5 503.8,683.4 C505.6,684.2 507.6,686.1 509.1,687.3 C510.6,688.5 511.7,690.7 513.1,690.5 C514.4,690.3 515.7,687.7 517.0,686.0 C518.3,684.3 519.4,681.7 521.0,680.2 C522.5,678.7 524.7,676.9 526.3,676.8 C527.8,676.6 528.5,678.2 530.3,679.4 C532.1,680.6 534.7,683.6 536.9,684.2 C539.1,684.7 541.5,682.8 543.5,682.8 C545.5,682.9 547.0,683.5 548.8,684.7 C550.5,685.9 552.5,688.4 554.0,690.0 C555.6,691.5 556.2,693.8 558.0,693.9 C559.8,694.1 562.2,691.3 564.6,690.8 C567.0,690.2 569.9,690.9 572.5,690.8 C575.2,690.6 577.8,689.7 580.4,690.0 C583.1,690.3 585.7,691.9 588.4,692.6 C591.0,693.4 593.6,694.1 596.3,694.5 C598.9,694.8 601.6,694.9 604.2,694.5 C606.8,694.0 609.0,692.3 612.1,691.8 C615.2,691.3 619.2,691.4 622.7,691.3 C626.2,691.2 629.7,691.4 633.3,691.3 C636.8,691.2 640.7,691.2 643.8,690.8 C646.9,690.3 649.1,689.0 651.7,688.6 C654.4,688.3 657.0,688.5 659.7,688.6 C662.3,688.8 666.3,689.3 667.6,689.4" stroke="#111"/>
</g>
<rect x="388.2" y="624.8" width="279.40000000000003" height="231.5" fill="none" stroke="#000" stroke-width="1.3"/>
<line x1="388.2" y1="856.3" x2="388.2" y2="861.0999999999999" stroke="#000" stroke-width="1.3"/>
<text x="388.2" y="878.9" font-size="17.3" fill="#111" text-anchor="middle">0</text>
<line x1="411.5" y1="856.3" x2="411.5" y2="858.9" stroke="#000" stroke-width="1.3"/>
<line x1="434.8" y1="856.3" x2="434.8" y2="861.0999999999999" stroke="#000" stroke-width="1.3"/>
<text x="434.8" y="878.9" font-size="17.3" fill="#111" text-anchor="middle">1</text>
<line x1="458.1" y1="856.3" x2="458.1" y2="858.9" stroke="#000" stroke-width="1.3"/>
<line x1="481.3" y1="856.3" x2="481.3" y2="861.0999999999999" stroke="#000" stroke-width="1.3"/>
<text x="481.3" y="878.9" font-size="17.3" fill="#111" text-anchor="middle">2</text>
<line x1="504.6" y1="856.3" x2="504.6" y2="858.9" stroke="#000" stroke-width="1.3"/>
<line x1="527.9" y1="856.3" x2="527.9" y2="861.0999999999999" stroke="#000" stroke-width="1.3"/>
<text x="527.9" y="878.9" font-size="17.3" fill="#111" text-anchor="middle">3</text>
<line x1="551.2" y1="856.3" x2="551.2" y2="858.9" stroke="#000" stroke-width="1.3"/>
<line x1="574.5" y1="856.3" x2="574.5" y2="861.0999999999999" stroke="#000" stroke-width="1.3"/>
<text x="574.5" y="878.9" font-size="17.3" fill="#111" text-anchor="middle">4</text>
<line x1="597.8" y1="856.3" x2="597.8" y2="858.9" stroke="#000" stroke-width="1.3"/>
<line x1="621.0" y1="856.3" x2="621.0" y2="861.0999999999999" stroke="#000" stroke-width="1.3"/>
<text x="621.0" y="878.9" font-size="17.3" fill="#111" text-anchor="middle">5</text>
<line x1="644.3" y1="856.3" x2="644.3" y2="858.9" stroke="#000" stroke-width="1.3"/>
<line x1="667.6" y1="856.3" x2="667.6" y2="861.0999999999999" stroke="#000" stroke-width="1.3"/>
<text x="667.6" y="878.9" font-size="17.3" fill="#111" text-anchor="middle">6</text>
<text x="531" y="903.8" font-size="19.8" fill="#111" text-anchor="middle">R + α (Å)</text>
<text transform="translate(377.2,745.6) rotate(-90)" font-size="19.6" fill="#111" text-anchor="middle">F.T. EXAFS (a.u.)</text>
<line x1="477.9" y1="687.3" x2="477.9" y2="742" stroke="#000" stroke-width="1.4" stroke-dasharray="4.2,2.4"/>
<line x1="520.4" y1="726.9" x2="520.4" y2="759.9" stroke="#000" stroke-width="1.4" stroke-dasharray="4.2,2.4"/>
<line x1="526.3" y1="705" x2="526.3" y2="730.9" stroke="#000" stroke-width="1.4" stroke-dasharray="4.2,2.4"/>
<text x="423.2" y="707.7" font-size="17.3" fill="#111">Cu–O</text>
<text x="493.2" y="771.4" font-size="15.2" fill="#111">2.83</text>
<text x="528.4" y="711.9" font-size="15.2" fill="#111">2.97</text>
<text x="531.6" y="743.6" font-size="17.6" fill="#111">Cu–Ti</text>
<text x="607.3" y="686" font-size="17.5" fill="#111">CuO</text>
<text x="586.9" y="712.4" font-size="17.8" fill="#2a7fc0">Cu–O<tspan font-size="12.6" dy="4.6">4</tspan><tspan dy="-4.6">(Ti)</tspan></text>
<text x="588.8" y="745.7" font-size="17.8" fill="#d4283e">Cu–Ti<tspan font-size="12.6" dy="4.6">1</tspan><tspan dy="-4.6">O</tspan><tspan font-size="12.6" dy="4.6">3</tspan></text>
<text x="603.3" y="784.2" font-size="17.5" fill="#f08a3c">Cu<tspan font-size="12.6" dy="4.6">2</tspan><tspan dy="-4.6">O</tspan></text>
<text x="600.7" y="816.7" font-size="17.5" fill="#ecbe5a">Cu foil</text>
</g>
</svg>
</body></html>
